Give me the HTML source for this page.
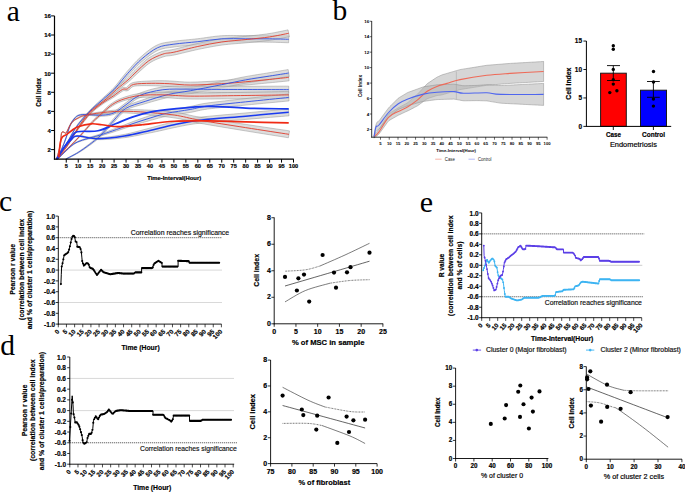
<!DOCTYPE html><html><head><meta charset="utf-8"><style>html,body{margin:0;padding:0;background:#fff;overflow:hidden}svg{display:block}</style></head><body>
<svg width="685" height="492" viewBox="0 0 685 492">
<rect width="685" height="492" fill="#fff"/>
<text x="6.8" y="20.7" font-size="29.5" font-family='"Liberation Serif", serif' font-weight="normal" fill="#000" text-anchor="start" >a</text>
<path d="M56.31,159.22 L56.7,158.65 L57.22,157.94 L57.82,157.09 L58.51,156.13 L59.25,155.07 L60.03,153.96 L60.83,152.79 L61.63,151.61 L62.44,150.37 L63.31,149.05 L64.21,147.65 L65.14,146.2 L66.09,144.72 L67.04,143.21 L67.98,141.7 L68.9,140.2 L69.81,138.68 L70.7,137.13 L71.59,135.54 L72.48,133.96 L73.37,132.38 L74.29,130.83 L75.22,129.32 L76.18,127.87 L77.18,126.48 L78.21,125.11 L79.26,123.77 L80.34,122.47 L81.42,121.19 L82.5,119.94 L83.58,118.72 L84.65,117.53 L85.69,116.39 L86.71,115.31 L87.72,114.27 L88.73,113.26 L89.76,112.25 L90.83,111.23 L91.94,110.19 L93.11,109.11 L94.36,107.99 L95.66,106.85 L97.02,105.69 L98.41,104.51 L99.82,103.32 L101.24,102.14 L102.65,100.95 L104.03,99.78 L105.41,98.61 L106.82,97.45 L108.24,96.29 L109.66,95.12 L111.07,93.94 L112.45,92.76 L113.78,91.57 L115.05,90.37 L116.25,89.16 L117.38,87.95 L118.46,86.73 L119.5,85.52 L120.5,84.32 L121.48,83.15 L122.45,82.01 L123.42,80.89 L124.37,79.81 L125.26,78.79 L126.11,77.8 L126.95,76.83 L127.82,75.84 L128.75,74.81 L129.78,73.71 L130.95,72.49 L132.25,71.13 L133.64,69.67 L135.1,68.14 L136.62,66.57 L138.21,64.99 L139.84,63.43 L141.51,61.93 L143.23,60.49 L145.04,59.04 L146.94,57.55 L148.9,56.07 L150.89,54.63 L152.89,53.27 L154.89,52.04 L156.84,50.96 L158.73,50.07 L160.53,49.39 L162.26,48.88 L163.98,48.46 L165.75,48.12 L167.62,47.83 L169.65,47.57 L171.88,47.29 L174.29,46.96 L176.88,46.62 L179.65,46.31 L182.59,46.03 L185.65,45.76 L188.78,45.49 L191.94,45.21 L195.07,44.93 L198.15,44.62 L201.18,44.27 L204.2,43.89 L207.2,43.49 L210.19,43.09 L213.15,42.72 L216.09,42.38 L219.02,42.11 L221.93,41.91 L224.83,41.79 L227.76,41.74 L230.7,41.75 L233.66,41.8 L236.63,41.87 L239.62,41.95 L242.63,42.01 L245.65,42.05 L248.69,42.06 L251.76,42.07 L254.85,42.08 L257.93,42.09 L260.96,42.1 L263.93,42.12 L266.8,42.14 L269.54,42.18 L272.27,42.24 L275.07,42.31 L277.86,42.4 L280.55,42.48 L283.05,42.57 L285.28,42.65 L287.17,42.72 L288.62,42.77 L288.81,35.83 L287.37,35.79 L285.49,35.75 L283.25,35.69 L280.74,35.63 L278.04,35.57 L275.22,35.52 L272.39,35.48 L269.62,35.46 L266.84,35.45 L263.94,35.45 L260.96,35.47 L257.91,35.49 L254.83,35.52 L251.74,35.55 L248.68,35.57 L245.67,35.59 L242.71,35.59 L239.74,35.56 L236.75,35.52 L233.74,35.48 L230.72,35.47 L227.68,35.49 L224.63,35.58 L221.55,35.73 L218.48,35.98 L215.43,36.31 L212.39,36.69 L209.37,37.1 L206.38,37.54 L203.4,37.97 L200.44,38.38 L197.49,38.75 L194.48,39.08 L191.39,39.4 L188.25,39.71 L185.11,40.01 L182.03,40.32 L179.03,40.65 L176.17,41 L173.51,41.38 L171.12,41.73 L168.91,42.03 L166.81,42.33 L164.77,42.67 L162.75,43.08 L160.71,43.63 L158.65,44.38 L156.54,45.33 L154.39,46.49 L152.25,47.82 L150.15,49.28 L148.09,50.84 L146.07,52.45 L144.12,54.08 L142.25,55.69 L140.46,57.26 L138.72,58.86 L137.03,60.53 L135.39,62.22 L133.82,63.92 L132.33,65.58 L130.92,67.18 L129.59,68.69 L128.35,70.09 L127.21,71.38 L126.2,72.56 L125.28,73.66 L124.42,74.7 L123.6,75.72 L122.79,76.73 L121.95,77.77 L121.04,78.88 L120.09,80.06 L119.14,81.26 L118.2,82.47 L117.25,83.68 L116.29,84.9 L115.29,86.11 L114.25,87.31 L113.15,88.5 L111.98,89.69 L110.74,90.89 L109.44,92.09 L108.1,93.3 L106.73,94.52 L105.36,95.74 L103.99,96.97 L102.64,98.19 L101.3,99.42 L99.94,100.65 L98.57,101.89 L97.2,103.13 L95.85,104.36 L94.53,105.58 L93.25,106.78 L92.03,107.96 L90.88,109.09 L89.8,110.18 L88.75,111.24 L87.74,112.29 L86.75,113.35 L85.76,114.43 L84.77,115.55 L83.75,116.73 L82.71,117.96 L81.66,119.22 L80.6,120.5 L79.54,121.82 L78.5,123.17 L77.46,124.55 L76.45,125.96 L75.47,127.4 L74.53,128.88 L73.61,130.43 L72.72,132.01 L71.85,133.61 L70.99,135.22 L70.13,136.81 L69.27,138.38 L68.4,139.9 L67.51,141.41 L66.59,142.93 L65.67,144.46 L64.75,145.96 L63.84,147.42 L62.96,148.83 L62.12,150.16 L61.33,151.41 L60.55,152.61 L59.77,153.78 L59.01,154.91 L58.28,155.97 L57.61,156.94 L57.01,157.8 L56.51,158.52 L56.12,159.08 Z" fill="#cfcfcf" fill-opacity="0.7" stroke="#8a8a8a" stroke-opacity="0.75" stroke-width="0.6" stroke-linejoin="round"/>
<path d="M56.3,159.23 L56.69,158.82 L57.2,158.3 L57.81,157.68 L58.5,156.98 L59.24,156.2 L60.02,155.36 L60.82,154.47 L61.61,153.53 L62.41,152.57 L63.24,151.58 L64.09,150.55 L64.98,149.44 L65.9,148.25 L66.86,146.97 L67.86,145.56 L68.9,144.03 L70.01,142.3 L71.18,140.36 L72.4,138.29 L73.66,136.13 L74.93,133.95 L76.19,131.81 L77.43,129.77 L78.62,127.89 L79.79,126.12 L80.94,124.4 L82.09,122.72 L83.22,121.11 L84.34,119.57 L85.44,118.1 L86.52,116.73 L87.58,115.45 L88.59,114.32 L89.54,113.32 L90.46,112.43 L91.37,111.61 L92.31,110.82 L93.29,110.01 L94.35,109.16 L95.5,108.24 L96.76,107.26 L98.11,106.26 L99.54,105.24 L101.02,104.2 L102.52,103.15 L104.02,102.07 L105.5,100.97 L106.93,99.85 L108.3,98.7 L109.63,97.54 L110.93,96.36 L112.21,95.17 L113.49,93.98 L114.77,92.8 L116.07,91.64 L117.41,90.49 L118.83,89.33 L120.32,88.15 L121.86,86.95 L123.42,85.75 L124.96,84.58 L126.44,83.43 L127.83,82.32 L129.11,81.27 L130.2,80.33 L131.1,79.5 L131.88,78.75 L132.6,78.03 L133.32,77.32 L134.11,76.54 L135.05,75.66 L136.23,74.6 L137.67,73.3 L139.28,71.8 L141.02,70.19 L142.84,68.53 L144.71,66.88 L146.58,65.31 L148.39,63.9 L150.11,62.71 L151.8,61.68 L153.54,60.75 L155.31,59.89 L157.08,59.12 L158.83,58.42 L160.55,57.8 L162.21,57.23 L163.76,56.72 L165.06,56.33 L166.09,56.1 L167.04,55.96 L168.06,55.86 L169.25,55.75 L170.69,55.6 L172.42,55.34 L174.49,54.95 L176.92,54.4 L179.65,53.76 L182.61,53.05 L185.75,52.28 L188.97,51.5 L192.22,50.73 L195.4,50.01 L198.45,49.35 L201.41,48.73 L204.36,48.13 L207.29,47.55 L210.22,46.99 L213.16,46.45 L216.12,45.94 L219.12,45.47 L222.17,45.03 L225.3,44.64 L228.53,44.3 L231.84,43.99 L235.19,43.71 L238.53,43.44 L241.83,43.18 L245.05,42.91 L248.14,42.62 L251.09,42.32 L253.95,42.05 L256.75,41.78 L259.49,41.5 L262.18,41.22 L264.83,40.92 L267.46,40.59 L270.08,40.24 L272.79,39.82 L275.61,39.34 L278.43,38.82 L281.18,38.3 L283.74,37.8 L286.03,37.34 L287.94,36.97 L289.39,36.69 L288.04,29.87 L286.57,30.17 L284.65,30.58 L282.37,31.05 L279.84,31.58 L277.15,32.12 L274.39,32.66 L271.67,33.15 L269.08,33.58 L266.56,33.96 L264.01,34.3 L261.42,34.62 L258.77,34.93 L256.07,35.23 L253.28,35.54 L250.42,35.85 L247.48,36.17 L244.44,36.49 L241.27,36.79 L237.98,37.1 L234.63,37.4 L231.25,37.73 L227.88,38.08 L224.55,38.47 L221.31,38.91 L218.17,39.4 L215.1,39.92 L212.07,40.47 L209.07,41.05 L206.1,41.66 L203.14,42.28 L200.18,42.92 L197.19,43.57 L194.09,44.28 L190.86,45.06 L187.59,45.87 L184.36,46.69 L181.23,47.49 L178.3,48.23 L175.62,48.89 L173.31,49.43 L171.44,49.81 L169.94,50.05 L168.68,50.2 L167.51,50.32 L166.32,50.45 L165.03,50.66 L163.61,50.99 L162.03,51.48 L160.35,52.1 L158.62,52.81 L156.81,53.59 L154.96,54.45 L153.08,55.41 L151.19,56.45 L149.31,57.6 L147.46,58.86 L145.59,60.3 L143.7,61.92 L141.81,63.66 L139.95,65.45 L138.17,67.22 L136.49,68.91 L134.96,70.46 L133.59,71.8 L132.44,72.94 L131.48,73.91 L130.68,74.76 L129.99,75.52 L129.32,76.23 L128.63,76.96 L127.82,77.76 L126.84,78.69 L125.66,79.75 L124.35,80.88 L122.94,82.08 L121.46,83.32 L119.96,84.58 L118.45,85.86 L116.98,87.13 L115.57,88.38 L114.24,89.62 L112.95,90.87 L111.69,92.12 L110.46,93.36 L109.23,94.58 L108,95.79 L106.76,96.97 L105.48,98.12 L104.14,99.26 L102.75,100.39 L101.31,101.51 L99.86,102.62 L98.42,103.72 L97.01,104.81 L95.67,105.88 L94.43,106.92 L93.3,107.9 L92.27,108.79 L91.3,109.65 L90.36,110.5 L89.45,111.38 L88.52,112.34 L87.57,113.4 L86.56,114.6 L85.51,115.94 L84.45,117.36 L83.37,118.87 L82.28,120.46 L81.18,122.11 L80.07,123.82 L78.95,125.58 L77.82,127.38 L76.66,129.3 L75.45,131.38 L74.23,133.55 L73,135.76 L71.79,137.94 L70.61,140.03 L69.47,141.97 L68.41,143.71 L67.4,145.25 L66.43,146.67 L65.51,147.96 L64.61,149.16 L63.75,150.28 L62.92,151.33 L62.12,152.33 L61.34,153.31 L60.56,154.25 L59.79,155.15 L59.02,156 L58.3,156.79 L57.62,157.5 L57.03,158.12 L56.52,158.65 L56.13,159.07 Z" fill="#cfcfcf" fill-opacity="0.7" stroke="#8a8a8a" stroke-opacity="0.75" stroke-width="0.6" stroke-linejoin="round"/>
<path d="M56.79,159.22 L57.52,158.22 L58.47,156.92 L59.6,155.37 L60.86,153.64 L62.23,151.77 L63.64,149.83 L65.07,147.86 L66.47,145.93 L67.87,143.96 L69.33,141.88 L70.84,139.71 L72.38,137.51 L73.95,135.28 L75.51,133.08 L77.07,130.93 L78.6,128.87 L80.12,126.85 L81.64,124.83 L83.16,122.83 L84.68,120.87 L86.19,118.96 L87.7,117.14 L89.21,115.42 L90.71,113.82 L92.22,112.34 L93.73,110.96 L95.25,109.68 L96.77,108.47 L98.29,107.32 L99.79,106.22 L101.28,105.15 L102.75,104.11 L104.18,103.11 L105.6,102.19 L107.02,101.32 L108.42,100.48 L109.81,99.67 L111.19,98.86 L112.55,98.04 L113.88,97.2 L115.21,96.31 L116.53,95.37 L117.82,94.43 L119.07,93.51 L120.26,92.65 L121.36,91.9 L122.34,91.28 L123.17,90.84 L123.75,90.62 L124.11,90.57 L124.39,90.6 L124.75,90.67 L125.29,90.79 L126.04,90.88 L126.97,90.81 L127.98,90.49 L128.95,89.92 L129.73,89.24 L130.37,88.56 L130.96,87.94 L131.56,87.39 L132.24,86.91 L133.07,86.51 L134.17,86.2 L135.66,85.97 L137.49,85.81 L139.57,85.71 L141.82,85.66 L144.17,85.65 L146.56,85.67 L148.93,85.7 L151.21,85.73 L153.39,85.77 L155.53,85.84 L157.67,85.93 L159.82,86.05 L162.02,86.18 L164.26,86.27 L166.58,86.38 L168.98,86.49 L171.38,86.64 L173.79,86.84 L176.26,87.08 L178.82,87.32 L181.51,87.55 L184.35,87.75 L187.39,87.89 L190.64,87.96 L194.18,87.94 L198.01,87.86 L202.04,87.74 L206.19,87.57 L210.34,87.39 L214.42,87.19 L218.31,86.98 L221.93,86.79 L225.28,86.6 L228.45,86.4 L231.48,86.19 L234.41,85.97 L237.28,85.74 L240.13,85.5 L243.01,85.26 L245.95,85.01 L248.99,84.75 L252.07,84.47 L255.17,84.18 L258.25,83.89 L261.3,83.59 L264.28,83.3 L267.16,83.02 L269.92,82.75 L272.68,82.49 L275.5,82.21 L278.3,81.93 L281,81.66 L283.51,81.41 L285.75,81.19 L287.64,81 L289.08,80.86 L288.35,73.95 L286.91,74.11 L285.03,74.32 L282.79,74.57 L280.28,74.85 L277.59,75.15 L274.8,75.46 L271.98,75.76 L269.24,76.06 L266.48,76.36 L263.59,76.67 L260.62,77 L257.59,77.33 L254.51,77.65 L251.44,77.98 L248.38,78.29 L245.37,78.58 L242.43,78.86 L239.56,79.14 L236.73,79.41 L233.89,79.66 L230.99,79.92 L228,80.16 L224.87,80.39 L221.55,80.62 L217.95,80.85 L214.07,81.1 L210.02,81.35 L205.9,81.58 L201.8,81.79 L197.82,81.96 L194.07,82.07 L190.65,82.13 L187.55,82.1 L184.66,82 L181.92,81.84 L179.3,81.64 L176.76,81.43 L174.25,81.23 L171.76,81.05 L169.26,80.92 L166.81,80.83 L164.47,80.75 L162.19,80.68 L159.96,80.68 L157.75,80.7 L155.56,80.75 L153.36,80.82 L151.14,80.91 L148.86,81.02 L146.47,81.14 L144.05,81.26 L141.64,81.42 L139.3,81.61 L137.1,81.85 L135.08,82.15 L133.26,82.54 L131.67,83.1 L130.33,83.82 L129.26,84.64 L128.43,85.46 L127.78,86.21 L127.26,86.8 L126.87,87.19 L126.53,87.42 L126.25,87.53 L126.06,87.56 L125.79,87.53 L125.33,87.46 L124.66,87.37 L123.79,87.38 L122.8,87.59 L121.78,88.03 L120.72,88.66 L119.64,89.42 L118.5,90.28 L117.32,91.21 L116.11,92.18 L114.87,93.17 L113.63,94.13 L112.4,95.04 L111.16,95.9 L109.88,96.76 L108.55,97.62 L107.19,98.5 L105.8,99.41 L104.39,100.37 L102.96,101.38 L101.53,102.46 L100.1,103.57 L98.64,104.71 L97.16,105.88 L95.67,107.11 L94.16,108.4 L92.65,109.77 L91.14,111.23 L89.65,112.8 L88.16,114.49 L86.68,116.29 L85.2,118.18 L83.72,120.14 L82.25,122.15 L80.78,124.19 L79.31,126.25 L77.84,128.31 L76.35,130.41 L74.83,132.6 L73.31,134.85 L71.8,137.1 L70.3,139.34 L68.83,141.54 L67.41,143.64 L66.05,145.63 L64.7,147.59 L63.31,149.58 L61.92,151.55 L60.59,153.44 L59.35,155.2 L58.24,156.76 L57.31,158.07 L56.6,159.08 Z" fill="#cfcfcf" fill-opacity="0.7" stroke="#8a8a8a" stroke-opacity="0.75" stroke-width="0.6" stroke-linejoin="round"/>
<path d="M65.9,159.37 L66.87,158.87 L68.18,158.22 L69.74,157.45 L71.47,156.59 L73.29,155.67 L75.12,154.72 L76.87,153.78 L78.47,152.87 L79.95,151.98 L81.4,151.07 L82.83,150.14 L84.24,149.19 L85.63,148.24 L86.99,147.29 L88.33,146.34 L89.65,145.4 L90.97,144.44 L92.31,143.46 L93.63,142.47 L94.93,141.48 L96.18,140.51 L97.36,139.58 L98.44,138.7 L99.41,137.89 L100.21,137.21 L100.83,136.65 L101.33,136.16 L101.77,135.7 L102.21,135.23 L102.7,134.67 L103.31,133.99 L104.12,133.11 L105.13,132.01 L106.25,130.76 L107.47,129.38 L108.77,127.92 L110.13,126.4 L111.52,124.86 L112.93,123.33 L114.36,121.83 L115.78,120.29 L117.17,118.68 L118.57,117.05 L119.98,115.44 L121.45,113.89 L123,112.44 L124.65,111.11 L126.45,109.94 L128.42,108.91 L130.56,108 L132.86,107.19 L135.28,106.43 L137.82,105.71 L140.45,105 L143.14,104.27 L145.88,103.49 L148.67,102.67 L151.57,101.82 L154.54,100.98 L157.55,100.14 L160.57,99.34 L163.56,98.56 L166.47,97.79 L169.27,97.12 L171.92,96.55 L174.41,96.09 L176.85,95.7 L179.31,95.35 L181.85,95 L184.55,94.62 L187.48,94.18 L190.68,93.64 L194.23,93 L198.09,92.29 L202.17,91.53 L206.38,90.73 L210.6,89.93 L214.74,89.14 L218.68,88.39 L222.34,87.69 L225.71,87.04 L228.89,86.41 L231.91,85.81 L234.81,85.23 L237.66,84.66 L240.48,84.11 L243.32,83.58 L246.23,83.06 L249.23,82.55 L252.28,82.06 L255.35,81.59 L258.42,81.13 L261.46,80.68 L264.44,80.24 L267.33,79.81 L270.11,79.39 L272.86,78.96 L275.68,78.53 L278.49,78.1 L281.18,77.68 L283.69,77.3 L285.93,76.95 L287.82,76.66 L289.26,76.44 L288.17,69.58 L286.73,69.82 L284.84,70.13 L282.61,70.5 L280.1,70.91 L277.41,71.36 L274.61,71.82 L271.8,72.29 L269.05,72.74 L266.3,73.19 L263.43,73.65 L260.46,74.12 L257.41,74.61 L254.33,75.11 L251.23,75.63 L248.14,76.16 L245.09,76.71 L242.13,77.27 L239.24,77.85 L236.4,78.43 L233.54,79.03 L230.64,79.65 L227.63,80.29 L224.48,80.94 L221.14,81.63 L217.5,82.36 L213.56,83.16 L209.44,84 L205.23,84.84 L201.04,85.68 L196.98,86.49 L193.14,87.24 L189.65,87.91 L186.53,88.47 L183.69,88.93 L181.03,89.34 L178.48,89.72 L175.97,90.11 L173.42,90.54 L170.79,91.06 L168,91.69 L165.08,92.43 L162.09,93.25 L159.07,94.19 L156.04,95.19 L153.04,96.22 L150.1,97.25 L147.24,98.27 L144.51,99.25 L141.88,100.17 L139.25,101.05 L136.65,101.91 L134.09,102.8 L131.59,103.73 L129.18,104.74 L126.88,105.86 L124.71,107.13 L122.72,108.57 L120.92,110.14 L119.29,111.8 L117.79,113.51 L116.38,115.22 L115.04,116.9 L113.73,118.53 L112.41,120.07 L111.04,121.62 L109.66,123.22 L108.31,124.82 L106.99,126.39 L105.74,127.9 L104.57,129.32 L103.5,130.59 L102.55,131.71 L101.76,132.62 L101.16,133.34 L100.69,133.9 L100.3,134.37 L99.91,134.79 L99.48,135.24 L98.92,135.79 L98.17,136.48 L97.25,137.3 L96.22,138.21 L95.09,139.17 L93.89,140.17 L92.64,141.2 L91.36,142.24 L90.07,143.26 L88.8,144.25 L87.52,145.24 L86.22,146.23 L84.9,147.23 L83.56,148.22 L82.19,149.2 L80.81,150.18 L79.4,151.13 L77.97,152.06 L76.43,153.01 L74.72,154 L72.94,155.01 L71.16,155.98 L69.46,156.9 L67.92,157.72 L66.63,158.41 L65.67,158.93 Z" fill="#cfcfcf" fill-opacity="0.7" stroke="#8a8a8a" stroke-opacity="0.75" stroke-width="0.6" stroke-linejoin="round"/>
<path d="M56.8,159.2 L57.17,158.49 L57.66,157.56 L58.25,156.45 L58.91,155.21 L59.61,153.87 L60.31,152.48 L61,151.06 L61.64,149.67 L62.25,148.26 L62.88,146.78 L63.5,145.24 L64.13,143.66 L64.75,142.07 L65.35,140.47 L65.94,138.9 L66.5,137.36 L67.02,135.83 L67.51,134.27 L67.97,132.71 L68.42,131.16 L68.87,129.66 L69.34,128.21 L69.83,126.84 L70.38,125.57 L70.97,124.37 L71.6,123.23 L72.26,122.13 L72.93,121.11 L73.62,120.15 L74.31,119.28 L74.98,118.49 L75.65,117.81 L76.27,117.23 L76.86,116.77 L77.43,116.4 L78,116.11 L78.6,115.88 L79.23,115.68 L79.94,115.51 L80.71,115.35 L81.53,115.23 L82.36,115.16 L83.24,115.13 L84.17,115.14 L85.17,115.18 L86.26,115.23 L87.44,115.29 L88.72,115.35 L90.14,115.44 L91.7,115.58 L93.38,115.75 L95.14,115.92 L96.94,116.08 L98.74,116.21 L100.51,116.27 L102.2,116.24 L103.79,116.16 L105.34,116.06 L106.88,115.92 L108.41,115.73 L109.95,115.46 L111.49,115.11 L113.06,114.64 L114.64,114.05 L116.24,113.31 L117.81,112.43 L119.35,111.45 L120.88,110.4 L122.39,109.31 L123.92,108.21 L125.45,107.13 L127.03,106.07 L128.63,104.95 L130.18,103.78 L131.67,102.59 L133.17,101.43 L134.72,100.32 L136.38,99.28 L138.19,98.31 L140.25,97.44 L142.6,96.63 L145.19,95.84 L147.97,95.09 L150.89,94.41 L153.92,93.8 L157.01,93.26 L160.13,92.82 L163.23,92.46 L166.32,92.16 L169.48,91.98 L172.71,91.89 L176.03,91.88 L179.43,91.92 L182.93,91.98 L186.51,92.03 L190.17,92.06 L193.66,92.07 L196.9,92.11 L200.1,92.16 L203.43,92.23 L207.08,92.3 L211.22,92.38 L216.04,92.46 L221.72,92.53 L228.86,92.6 L237.55,92.68 L247.2,92.76 L257.19,92.84 L266.94,92.92 L275.84,92.99 L283.3,93.05 L288.71,93.1 L288.73,86.15 L283.32,86.17 L275.86,86.19 L266.96,86.22 L257.21,86.26 L247.22,86.29 L237.57,86.31 L228.89,86.33 L221.76,86.34 L216.09,86.34 L211.29,86.32 L207.16,86.29 L203.51,86.26 L200.17,86.23 L196.95,86.21 L193.67,86.21 L190.17,86.24 L186.54,86.25 L182.99,86.24 L179.48,86.22 L176.02,86.22 L172.6,86.27 L169.21,86.4 L165.86,86.63 L162.56,86.99 L159.3,87.53 L156.05,88.2 L152.85,88.95 L149.73,89.78 L146.72,90.68 L143.85,91.63 L141.16,92.62 L138.66,93.65 L136.39,94.77 L134.35,95.98 L132.54,97.25 L130.91,98.54 L129.4,99.82 L127.97,101.06 L126.56,102.24 L125.09,103.36 L123.55,104.51 L122.02,105.69 L120.55,106.86 L119.11,107.99 L117.69,109.06 L116.3,110.03 L114.93,110.89 L113.56,111.61 L112.17,112.21 L110.79,112.7 L109.41,113.09 L108.01,113.41 L106.58,113.66 L105.12,113.87 L103.62,114.04 L102.08,114.2 L100.48,114.3 L98.79,114.33 L97.04,114.29 L95.26,114.22 L93.51,114.13 L91.81,114.04 L90.22,113.97 L88.77,113.94 L87.47,113.94 L86.29,113.94 L85.2,113.93 L84.17,113.94 L83.2,113.97 L82.28,114.04 L81.38,114.15 L80.51,114.32 L79.7,114.52 L78.95,114.74 L78.26,114.98 L77.6,115.27 L76.96,115.63 L76.33,116.06 L75.7,116.59 L75.05,117.22 L74.38,117.96 L73.7,118.79 L73.01,119.7 L72.33,120.7 L71.66,121.76 L71,122.89 L70.38,124.07 L69.8,125.31 L69.26,126.62 L68.77,128.02 L68.31,129.49 L67.87,131.01 L67.44,132.56 L66.99,134.12 L66.53,135.67 L66.02,137.2 L65.48,138.73 L64.91,140.31 L64.33,141.91 L63.73,143.51 L63.12,145.09 L62.51,146.63 L61.91,148.12 L61.31,149.53 L60.69,150.92 L60.02,152.34 L59.34,153.74 L58.66,155.08 L58.02,156.33 L57.44,157.44 L56.95,158.38 L56.59,159.1 Z" fill="#cfcfcf" fill-opacity="0.7" stroke="#8a8a8a" stroke-opacity="0.75" stroke-width="0.6" stroke-linejoin="round"/>
<path d="M56.77,159.24 L57.7,158.37 L58.94,157.22 L60.41,155.85 L62.05,154.33 L63.79,152.71 L65.55,151.06 L67.26,149.44 L68.86,147.9 L70.37,146.42 L71.89,144.92 L73.41,143.41 L74.92,141.88 L76.44,140.34 L77.96,138.79 L79.48,137.22 L81,135.63 L82.54,133.99 L84.1,132.28 L85.67,130.53 L87.24,128.78 L88.78,127.07 L90.29,125.42 L91.75,123.87 L93.14,122.46 L94.46,121.18 L95.74,120.02 L96.98,118.94 L98.19,117.92 L99.37,116.95 L100.53,115.99 L101.68,115.04 L102.83,114.07 L103.93,113.08 L104.96,112.12 L105.94,111.19 L106.9,110.28 L107.85,109.41 L108.84,108.56 L109.87,107.75 L110.99,106.96 L112.18,106.17 L113.37,105.4 L114.58,104.66 L115.83,103.94 L117.15,103.26 L118.56,102.6 L120.1,101.98 L121.8,101.38 L123.67,100.79 L125.67,100.21 L127.8,99.65 L130.02,99.12 L132.34,98.64 L134.73,98.22 L137.19,97.86 L139.7,97.59 L142.29,97.4 L144.99,97.29 L147.78,97.24 L150.65,97.25 L153.61,97.31 L156.64,97.41 L159.72,97.53 L162.85,97.63 L165.91,97.73 L168.92,97.88 L171.95,98.08 L175.09,98.31 L178.41,98.54 L181.98,98.75 L185.87,98.92 L190.13,99.03 L194.75,99.08 L199.66,99.09 L204.83,99.07 L210.24,99.03 L215.87,98.97 L221.68,98.91 L227.64,98.85 L233.74,98.8 L240.45,98.75 L247.98,98.69 L255.95,98.63 L263.98,98.56 L271.66,98.5 L278.61,98.44 L284.44,98.39 L288.76,98.35 L288.67,91.41 L284.34,91.49 L278.51,91.61 L271.56,91.75 L263.88,91.9 L255.86,92.06 L247.89,92.21 L240.36,92.36 L233.66,92.48 L227.55,92.6 L221.58,92.73 L215.77,92.86 L210.15,92.98 L204.76,93.09 L199.62,93.16 L194.75,93.21 L190.2,93.21 L186.04,93.15 L182.25,93.02 L178.75,92.86 L175.46,92.67 L172.3,92.48 L169.21,92.31 L166.11,92.18 L162.94,92.12 L159.77,92.17 L156.65,92.24 L153.58,92.34 L150.56,92.47 L147.61,92.64 L144.72,92.86 L141.92,93.15 L139.21,93.51 L136.58,93.95 L134.02,94.48 L131.54,95.06 L129.16,95.7 L126.88,96.37 L124.71,97.07 L122.67,97.79 L120.75,98.5 L118.98,99.23 L117.35,99.99 L115.85,100.78 L114.47,101.58 L113.17,102.4 L111.94,103.24 L110.75,104.09 L109.55,104.96 L108.39,105.85 L107.31,106.78 L106.3,107.72 L105.34,108.66 L104.4,109.62 L103.45,110.58 L102.48,111.56 L101.45,112.55 L100.37,113.54 L99.28,114.52 L98.15,115.52 L97,116.54 L95.81,117.62 L94.59,118.77 L93.32,120 L92.01,121.35 L90.64,122.84 L89.21,124.45 L87.74,126.15 L86.25,127.92 L84.73,129.71 L83.22,131.5 L81.71,133.24 L80.23,134.92 L78.76,136.54 L77.29,138.15 L75.81,139.74 L74.34,141.32 L72.87,142.88 L71.39,144.43 L69.92,145.97 L68.45,147.48 L66.89,149.06 L65.22,150.72 L63.5,152.41 L61.8,154.06 L60.19,155.62 L58.74,157.01 L57.53,158.18 L56.61,159.06 Z" fill="#cfcfcf" fill-opacity="0.7" stroke="#8a8a8a" stroke-opacity="0.75" stroke-width="0.6" stroke-linejoin="round"/>
<path d="M57.98,159.24 L58.62,158.58 L59.44,157.71 L60.41,156.67 L61.5,155.51 L62.68,154.29 L63.92,153.06 L65.18,151.86 L66.43,150.74 L67.63,149.67 L68.79,148.58 L69.95,147.49 L71.17,146.42 L72.5,145.36 L74,144.33 L75.71,143.33 L77.69,142.38 L80.06,141.47 L82.81,140.59 L85.83,139.73 L89.01,138.9 L92.23,138.1 L95.37,137.32 L98.33,136.57 L101,135.84 L103.34,135.14 L105.48,134.5 L107.46,133.89 L109.34,133.3 L111.18,132.72 L113.03,132.13 L114.93,131.52 L116.96,130.86 L119.1,130.17 L121.29,129.43 L123.52,128.68 L125.77,127.92 L128.02,127.16 L130.25,126.42 L132.44,125.71 L134.57,125.03 L136.64,124.39 L138.68,123.77 L140.68,123.18 L142.66,122.6 L144.64,122.03 L146.63,121.47 L148.63,120.91 L150.68,120.35 L152.72,119.79 L154.71,119.22 L156.68,118.67 L158.65,118.12 L160.66,117.6 L162.75,117.09 L164.95,116.55 L167.3,116.03 L169.89,115.53 L172.72,115.05 L175.73,114.58 L178.84,114.13 L181.96,113.68 L185.02,113.24 L187.95,112.8 L190.68,112.36 L193.06,111.91 L195.07,111.48 L196.84,111.07 L198.53,110.67 L200.28,110.28 L202.3,109.88 L204.74,109.47 L207.8,109.03 L211.51,108.57 L215.71,108.09 L220.32,107.6 L225.24,107.1 L230.36,106.59 L235.59,106.08 L240.83,105.57 L246,105.06 L251.44,104.52 L257.43,103.94 L263.68,103.33 L269.92,102.74 L275.85,102.17 L281.21,101.66 L285.71,101.23 L289.07,100.91 L288.37,94 L285.01,94.36 L280.52,94.84 L275.17,95.41 L269.24,96.04 L263.01,96.71 L256.76,97.39 L250.77,98.04 L245.32,98.64 L240.17,99.21 L234.94,99.78 L229.71,100.35 L224.58,100.92 L219.65,101.48 L215.01,102.03 L210.76,102.56 L206.97,103.07 L203.8,103.56 L201.2,104.03 L199.04,104.48 L197.17,104.92 L195.47,105.34 L193.76,105.76 L191.89,106.18 L189.65,106.62 L187.02,107.08 L184.15,107.55 L181.11,108.02 L177.99,108.5 L174.86,109 L171.79,109.51 L168.86,110.04 L166.15,110.59 L163.66,111.17 L161.35,111.77 L159.19,112.43 L157.13,113.1 L155.15,113.78 L153.21,114.46 L151.27,115.14 L149.28,115.82 L147.27,116.49 L145.29,117.17 L143.32,117.85 L141.36,118.54 L139.39,119.24 L137.41,119.95 L135.4,120.69 L133.34,121.45 L131.22,122.26 L129.05,123.1 L126.85,123.96 L124.64,124.84 L122.44,125.72 L120.25,126.58 L118.11,127.42 L116.03,128.23 L114.04,128.98 L112.17,129.69 L110.37,130.37 L108.57,131.04 L106.73,131.71 L104.79,132.41 L102.7,133.15 L100.41,133.95 L97.82,134.8 L94.92,135.68 L91.82,136.6 L88.63,137.55 L85.47,138.52 L82.46,139.51 L79.7,140.51 L77.31,141.54 L75.3,142.59 L73.57,143.68 L72.07,144.79 L70.74,145.91 L69.53,147.04 L68.39,148.16 L67.26,149.27 L66.09,150.37 L64.86,151.52 L63.62,152.75 L62.4,154.02 L61.24,155.27 L60.17,156.45 L59.22,157.5 L58.41,158.39 L57.79,159.06 Z" fill="#cfcfcf" fill-opacity="0.7" stroke="#8a8a8a" stroke-opacity="0.75" stroke-width="0.6" stroke-linejoin="round"/>
<path d="M56.79,159.21 L57.35,158.3 L58.1,157.07 L58.98,155.6 L59.96,153.98 L61.01,152.3 L62.06,150.66 L63.09,149.13 L64.04,147.82 L64.95,146.67 L65.87,145.58 L66.8,144.56 L67.73,143.59 L68.64,142.69 L69.54,141.84 L70.42,141.04 L71.28,140.29 L72.01,139.56 L72.56,138.84 L73.01,138.2 L73.44,137.66 L73.95,137.21 L74.64,136.86 L75.64,136.61 L77.04,136.49 L78.86,136.58 L81.02,136.89 L83.48,137.37 L86.16,137.93 L89.02,138.51 L91.99,139.04 L95.02,139.44 L98.06,139.64 L101.15,139.65 L104.37,139.56 L107.69,139.39 L111.08,139.13 L114.51,138.82 L117.93,138.45 L121.32,138.06 L124.64,137.64 L127.93,137.17 L131.22,136.63 L134.5,136.03 L137.76,135.4 L140.99,134.75 L144.2,134.09 L147.37,133.44 L150.52,132.81 L153.63,132.19 L156.71,131.54 L159.74,130.89 L162.75,130.24 L165.72,129.53 L168.7,128.83 L171.69,128.16 L174.73,127.53 L177.68,126.92 L180.45,126.34 L183.13,125.79 L185.85,125.26 L188.74,124.74 L191.91,124.23 L195.49,123.73 L199.61,123.22 L204.37,122.72 L209.72,122.23 L215.51,121.74 L221.59,121.26 L227.82,120.79 L234.05,120.32 L240.14,119.86 L245.94,119.39 L251.78,118.91 L257.96,118.39 L264.24,117.87 L270.39,117.36 L276.17,116.88 L281.36,116.45 L285.72,116.09 L289.02,115.81 L288.41,108.9 L285.11,109.21 L280.75,109.62 L275.57,110.11 L269.79,110.65 L263.65,111.24 L257.38,111.83 L251.21,112.41 L245.38,112.96 L239.61,113.49 L233.54,114.02 L227.31,114.56 L221.08,115.11 L214.98,115.66 L209.16,116.21 L203.75,116.77 L198.9,117.34 L194.69,117.9 L191.01,118.46 L187.74,119.03 L184.76,119.59 L181.97,120.17 L179.26,120.76 L176.5,121.37 L173.55,122.01 L170.48,122.69 L167.43,123.41 L164.42,124.15 L161.43,124.9 L158.46,125.73 L155.49,126.56 L152.49,127.38 L149.44,128.19 L146.34,129 L143.2,129.84 L140.04,130.69 L136.88,131.52 L133.7,132.33 L130.51,133.09 L127.32,133.8 L124.13,134.44 L120.87,135.04 L117.54,135.62 L114.17,136.16 L110.81,136.65 L107.48,137.07 L104.23,137.41 L101.08,137.66 L98.08,137.79 L95.15,137.74 L92.19,137.49 L89.25,137.11 L86.4,136.66 L83.69,136.21 L81.18,135.83 L78.94,135.6 L77.01,135.59 L75.49,135.78 L74.35,136.11 L73.51,136.58 L72.89,137.14 L72.41,137.77 L71.98,138.43 L71.48,139.1 L70.81,139.81 L69.99,140.57 L69.12,141.39 L68.24,142.28 L67.33,143.21 L66.42,144.21 L65.51,145.27 L64.6,146.38 L63.7,147.56 L62.76,148.91 L61.75,150.45 L60.72,152.12 L59.7,153.82 L58.73,155.45 L57.87,156.93 L57.14,158.18 L56.59,159.09 Z" fill="#cfcfcf" fill-opacity="0.7" stroke="#8a8a8a" stroke-opacity="0.75" stroke-width="0.6" stroke-linejoin="round"/>
<path d="M56.81,159.18 L57.1,158.06 L57.51,156.54 L58.01,154.74 L58.54,152.74 L59.09,150.65 L59.61,148.58 L60.07,146.61 L60.44,144.85 L60.7,143.21 L60.89,141.54 L61.03,139.89 L61.14,138.29 L61.23,136.81 L61.34,135.47 L61.47,134.32 L61.65,133.41 L61.86,132.77 L62.08,132.38 L62.29,132.19 L62.5,132.13 L62.73,132.13 L63,132.18 L63.32,132.24 L63.61,132.24 L63.82,132.28 L64.04,132.46 L64.3,132.75 L64.6,133.06 L64.96,133.34 L65.41,133.46 L65.93,133.31 L66.45,132.86 L67.01,132.07 L67.6,130.98 L68.24,129.67 L68.92,128.24 L69.62,126.77 L70.34,125.36 L71.07,124.09 L71.8,123.07 L72.52,122.25 L73.24,121.55 L73.97,120.93 L74.73,120.39 L75.51,119.9 L76.35,119.43 L77.24,118.97 L78.2,118.5 L79.12,118.04 L79.93,117.61 L80.72,117.23 L81.56,116.87 L82.56,116.53 L83.82,116.19 L85.41,115.85 L87.43,115.5 L89.97,115.12 L92.97,114.71 L96.31,114.3 L99.9,113.9 L103.62,113.53 L107.35,113.22 L110.99,112.98 L114.42,112.83 L117.64,112.77 L120.77,112.78 L123.85,112.85 L126.92,112.97 L130.06,113.15 L133.29,113.37 L136.69,113.64 L140.29,113.96 L144.17,114.32 L148.31,114.74 L152.63,115.22 L157.04,115.74 L161.44,116.3 L165.76,116.79 L169.89,117.29 L173.74,117.82 L177.16,118.37 L180.19,118.95 L183.01,119.56 L185.8,120.21 L188.71,120.9 L191.9,121.63 L195.51,122.4 L199.69,123.2 L204.48,124.06 L209.77,124.97 L215.44,125.93 L221.37,126.92 L227.43,127.92 L233.5,128.92 L239.45,129.89 L245.16,130.82 L250.97,131.77 L257.14,132.77 L263.45,133.78 L269.64,134.76 L275.47,135.69 L280.71,136.52 L285.11,137.22 L288.43,137.75 L289.48,130.89 L286.15,130.39 L281.75,129.74 L276.5,128.97 L270.66,128.11 L264.46,127.19 L258.15,126.25 L251.97,125.33 L246.16,124.45 L240.45,123.58 L234.49,122.67 L228.41,121.75 L222.35,120.82 L216.42,119.9 L210.76,119 L205.48,118.15 L200.74,117.36 L196.64,116.62 L193.12,115.91 L190,115.23 L187.09,114.58 L184.24,113.95 L181.29,113.34 L178.11,112.77 L174.54,112.24 L170.58,111.74 L166.37,111.27 L161.99,110.84 L157.51,110.56 L153.04,110.31 L148.66,110.1 L144.46,109.93 L140.54,109.8 L136.9,109.7 L133.46,109.63 L130.18,109.59 L126.99,109.59 L123.85,109.64 L120.72,109.75 L117.54,109.92 L114.26,110.16 L110.78,110.49 L107.12,110.92 L103.37,111.43 L99.65,111.98 L96.07,112.56 L92.72,113.13 L89.73,113.68 L87.19,114.18 L85.15,114.63 L83.52,115.05 L82.21,115.46 L81.16,115.87 L80.27,116.29 L79.46,116.72 L78.66,117.18 L77.76,117.67 L76.82,118.17 L75.93,118.67 L75.08,119.19 L74.27,119.73 L73.49,120.33 L72.73,121 L71.99,121.77 L71.25,122.65 L70.51,123.74 L69.78,125.06 L69.07,126.51 L68.39,127.99 L67.73,129.43 L67.12,130.74 L66.56,131.8 L66.07,132.53 L65.67,132.89 L65.4,132.98 L65.16,132.92 L64.9,132.72 L64.63,132.44 L64.34,132.14 L64.01,131.89 L63.65,131.82 L63.35,131.82 L63.07,131.79 L62.76,131.74 L62.43,131.75 L62.09,131.87 L61.79,132.16 L61.53,132.63 L61.3,133.32 L61.12,134.27 L60.99,135.43 L60.89,136.78 L60.8,138.27 L60.69,139.86 L60.56,141.5 L60.37,143.16 L60.12,144.8 L59.77,146.54 L59.32,148.51 L58.81,150.58 L58.28,152.67 L57.75,154.67 L57.27,156.48 L56.87,157.99 L56.58,159.12 Z" fill="#cfcfcf" fill-opacity="0.7" stroke="#8a8a8a" stroke-opacity="0.75" stroke-width="0.6" stroke-linejoin="round"/>
<path d="M56.21,159.15 C57.09,157.88 59.4,154.69 61.48,151.51 C63.55,148.33 66.26,144.03 68.65,140.05 C71.04,136.07 73.24,131.45 75.83,127.63 C78.42,123.81 81.41,120.31 84.2,117.13 C86.99,113.95 89.38,111.56 92.57,108.53 C95.76,105.51 99.75,102.17 103.34,98.98 C106.92,95.8 110.95,92.62 114.1,89.43 C117.25,86.25 119.64,82.91 122.23,79.88 C124.82,76.86 126.38,74.79 129.65,71.29 C132.92,67.79 137.18,62.81 141.85,58.87 C146.51,54.94 152.29,50.15 157.63,47.7 C162.98,45.25 167.2,45.17 173.9,44.17 C180.6,43.17 189.85,42.58 197.82,41.68 C205.79,40.79 213.77,39.3 221.74,38.82 C229.71,38.34 237.69,38.82 245.66,38.82 C253.63,38.82 262.4,38.74 269.58,38.82 C276.76,38.9 285.53,39.22 288.72,39.3" fill="none" stroke="#2f4fe4" stroke-width="0.9" stroke-linejoin="round"/>
<path d="M56.21,159.15 C57.09,158.19 59.4,155.97 61.48,153.42 C63.55,150.87 65.86,148.17 68.65,143.87 C71.44,139.57 75.15,132.44 78.22,127.63 C81.29,122.83 84.28,118.37 87.07,115.03 C89.86,111.69 91.77,110.25 94.96,107.58 C98.15,104.91 102.62,102.01 106.21,98.98 C109.79,95.96 112.86,92.6 116.49,89.43 C120.12,86.27 124.9,82.69 127.97,79.98 C131.04,77.27 131.44,76.4 134.91,73.2 C138.38,70 144.12,63.97 148.78,60.78 C153.45,57.6 158.71,55.53 162.9,54.1 C167.08,52.67 168.08,53.46 173.9,52.19 C179.72,50.92 189.85,48.16 197.82,46.46 C205.79,44.76 213.41,43.15 221.74,41.97 C230.07,40.79 239.84,40.24 247.81,39.39 C255.79,38.55 262.76,37.93 269.58,36.91 C276.4,35.89 285.53,33.89 288.72,33.28" fill="none" stroke="#e03c2c" stroke-width="0.9" stroke-linejoin="round"/>
<path d="M56.69,159.15 C58.29,156.92 62.67,150.87 66.26,145.78 C69.85,140.69 74.23,134 78.22,128.59 C82.21,123.18 86.19,117.53 90.18,113.31 C94.17,109.09 98.31,106.15 102.14,103.28 C105.97,100.42 109.75,98.43 113.14,96.12 C116.53,93.81 120.12,90.63 122.47,89.43 C124.82,88.24 125.38,89.8 127.26,88.96 C129.13,88.11 129.73,85.31 133.71,84.37 C137.7,83.43 145.28,83.43 151.18,83.32 C157.08,83.21 162.54,83.42 169.12,83.7 C175.69,83.99 181.87,85.04 190.64,85.04 C199.41,85.04 212.57,84.25 221.74,83.7 C230.91,83.16 237.69,82.51 245.66,81.79 C253.63,81.08 262.4,80.14 269.58,79.41 C276.76,78.68 285.53,77.74 288.72,77.4" fill="none" stroke="#e03c2c" stroke-width="0.9" stroke-linejoin="round"/>
<path d="M65.78,159.15 C67.85,158.04 74.31,154.85 78.22,152.47 C82.13,150.08 85.79,147.37 89.22,144.82 C92.65,142.28 96.44,139.25 98.79,137.19 C101.14,135.12 100.9,135.12 103.34,132.41 C105.77,129.7 109.67,124.93 113.38,120.95 C117.09,116.97 120.28,111.8 125.58,108.53 C130.88,105.27 138.02,103.73 145.2,101.37 C152.37,99.02 161.14,96.17 168.64,94.4 C176.13,92.63 181.32,92.4 190.17,90.77 C199.02,89.15 212.49,86.47 221.74,84.66 C230.99,82.85 237.69,81.32 245.66,79.88 C253.63,78.45 262.4,77.21 269.58,76.06 C276.76,74.92 285.53,73.52 288.72,73.01" fill="none" stroke="#2f4fe4" stroke-width="0.9" stroke-linejoin="round"/>
<path d="M56.69,159.15 C57.49,157.56 59.88,153.24 61.48,149.6 C63.07,145.96 64.82,141.31 66.26,137.28 C67.7,133.25 68.57,128.73 70.09,125.44 C71.6,122.14 73.6,119.28 75.35,117.51 C77.1,115.75 78.38,115.32 80.61,114.84 C82.84,114.36 85.16,114.58 88.74,114.65 C92.33,114.71 97.91,115.52 102.14,115.22 C106.37,114.92 110.11,114.58 114.1,112.83 C118.09,111.08 121.83,107.6 126.06,104.71 C130.29,101.83 133.32,98.05 139.46,95.55 C145.59,93.05 154.45,90.79 162.9,89.72 C171.35,88.66 180.36,89.2 190.17,89.15 C199.97,89.1 205.31,89.36 221.74,89.43 C238.17,89.51 277.55,89.59 288.72,89.63" fill="none" stroke="#2f4fe4" stroke-width="0.9" stroke-linejoin="round"/>
<path d="M56.69,159.15 C58.69,157.24 64.67,151.67 68.65,147.69 C72.64,143.71 76.63,139.57 80.61,135.28 C84.6,130.98 88.98,125.57 92.57,121.9 C96.16,118.24 99.19,115.97 102.14,113.31 C105.09,110.65 107.08,108.18 110.27,105.96 C113.46,103.73 116.41,101.67 121.28,99.94 C126.14,98.21 132.52,96.39 139.46,95.55 C146.39,94.7 154.45,94.78 162.9,94.88 C171.35,94.97 178.37,95.99 190.17,96.12 C201.97,96.25 217.27,95.85 233.7,95.64 C250.13,95.44 279.55,95.01 288.72,94.88" fill="none" stroke="#e03c2c" stroke-width="0.9" stroke-linejoin="round"/>
<path d="M57.89,159.15 C59.28,157.72 62.99,153.42 66.26,150.56 C69.53,147.69 71.76,144.57 77.5,141.96 C83.24,139.35 94.21,136.96 100.7,134.89 C107.2,132.82 110.95,131.49 116.49,129.54 C122.03,127.6 128.37,125.15 133.95,123.24 C139.53,121.33 144.52,119.74 149.98,118.08 C155.44,116.43 160.03,114.74 166.72,113.31 C173.42,111.88 183.39,110.7 190.17,109.49 C196.94,108.28 198.14,107.33 207.39,106.05 C216.64,104.78 232.11,103.28 245.66,101.85 C259.21,100.42 281.54,98.19 288.72,97.46" fill="none" stroke="#2f4fe4" stroke-width="0.9" stroke-linejoin="round"/>
<path d="M56.69,159.15 C57.89,157.24 61.48,150.87 63.87,147.69 C66.26,144.51 68.85,141.99 71.04,140.05 C73.24,138.11 72.52,136.26 77.02,136.04 C81.53,135.82 90.18,138.71 98.07,138.71 C105.97,138.71 115.73,137.41 124.39,136.04 C133.04,134.67 141.69,132.38 149.98,130.5 C158.27,128.62 165.93,126.47 174.14,124.77 C182.35,123.07 187.34,121.71 199.26,120.28 C211.18,118.85 230.75,117.5 245.66,116.17 C260.57,114.85 281.54,112.99 288.72,112.35" fill="none" stroke="#1a3af0" stroke-width="1.5" stroke-linejoin="round"/>
<path d="M56.69,159.15 C57.29,156.76 59.48,149.12 60.28,144.82 C61.08,140.53 60.92,135.5 61.48,133.36 C62.03,131.23 62.83,132.14 63.63,132.03 C64.43,131.92 64.94,134.22 66.26,132.7 C67.58,131.17 69.57,125.3 71.52,122.86 C73.48,120.42 75.35,119.42 77.98,118.08 C80.61,116.75 81.25,115.94 87.31,114.84 C93.37,113.74 105.49,111.99 114.34,111.5 C123.19,111 130.45,111.29 140.41,111.88 C150.38,112.47 164.17,113.63 174.14,115.03 C184.11,116.43 188.29,118.18 200.21,120.28 C212.13,122.38 230.87,125.3 245.66,127.63 C260.45,129.97 281.74,133.21 288.96,134.32" fill="none" stroke="#e03c2c" stroke-width="0.9" stroke-linejoin="round"/>
<path d="M56.69,159.15 C57.89,157.24 61.48,151.19 63.87,147.69 C66.26,144.19 68.85,140.8 71.04,138.14 C73.24,135.48 72.52,132.97 77.02,131.74 C81.53,130.52 91.66,132.11 98.07,130.79 C104.49,129.47 109.71,126.14 115.54,123.81 C121.36,121.49 127.06,118.83 133,116.84 C138.94,114.85 144.32,113.2 151.18,111.88 C158.03,110.56 164.77,109.84 174.14,108.92 C183.51,107.99 195.47,106.48 207.39,106.34 C219.31,106.2 232.11,107.63 245.66,108.06 C259.21,108.49 281.54,108.77 288.72,108.92" fill="none" stroke="#1a3af0" stroke-width="1.7" stroke-linejoin="round"/>
<path d="M58.84,157.24 C59.08,154.8 59.72,145.96 60.28,142.63 C60.84,139.3 61.2,138.62 62.19,137.28 C63.19,135.94 64.71,135.7 66.26,134.61 C67.81,133.51 69.57,132.01 71.52,130.69 C73.48,129.37 74.67,127.83 77.98,126.68 C81.29,125.53 87.39,124.13 91.38,123.81 C95.36,123.5 98.07,124.32 101.9,124.77 C105.73,125.22 110.59,126.22 114.34,126.49 C118.09,126.76 119.8,126.68 124.39,126.39 C128.97,126.11 133.55,125.63 141.85,124.77 C150.14,123.91 162.82,121.87 174.14,121.24 C185.46,120.6 197.86,120.84 209.78,120.95 C221.7,121.06 232.5,121.59 245.66,121.9 C258.82,122.22 281.54,122.7 288.72,122.86" fill="none" stroke="#f02a14" stroke-width="1.7" stroke-linejoin="round"/>
<line x1="54.5" y1="15.9" x2="54.5" y2="159.7" stroke="#000" stroke-width="1.2" />
<line x1="53.9" y1="159.1" x2="293.8" y2="159.1" stroke="#000" stroke-width="1.2" />
<line x1="51.1" y1="149.6" x2="54.5" y2="149.6" stroke="#000" stroke-width="1" />
<text x="50.9" y="151.9" font-size="6" font-family='"Liberation Sans", sans-serif' font-weight="bold" fill="#000" text-anchor="end" stroke="#000" stroke-width="0.18" >2</text>
<line x1="51.1" y1="130.5" x2="54.5" y2="130.5" stroke="#000" stroke-width="1" />
<text x="50.9" y="132.8" font-size="6" font-family='"Liberation Sans", sans-serif' font-weight="bold" fill="#000" text-anchor="end" stroke="#000" stroke-width="0.18" >4</text>
<line x1="51.1" y1="111.4" x2="54.5" y2="111.4" stroke="#000" stroke-width="1" />
<text x="50.9" y="113.7" font-size="6" font-family='"Liberation Sans", sans-serif' font-weight="bold" fill="#000" text-anchor="end" stroke="#000" stroke-width="0.18" >6</text>
<line x1="51.1" y1="92.3" x2="54.5" y2="92.3" stroke="#000" stroke-width="1" />
<text x="50.9" y="94.6" font-size="6" font-family='"Liberation Sans", sans-serif' font-weight="bold" fill="#000" text-anchor="end" stroke="#000" stroke-width="0.18" >8</text>
<line x1="51.1" y1="73.2" x2="54.5" y2="73.2" stroke="#000" stroke-width="1" />
<text x="50.9" y="75.5" font-size="6" font-family='"Liberation Sans", sans-serif' font-weight="bold" fill="#000" text-anchor="end" stroke="#000" stroke-width="0.18" >10</text>
<line x1="51.1" y1="54.1" x2="54.5" y2="54.1" stroke="#000" stroke-width="1" />
<text x="50.9" y="56.4" font-size="6" font-family='"Liberation Sans", sans-serif' font-weight="bold" fill="#000" text-anchor="end" stroke="#000" stroke-width="0.18" >12</text>
<line x1="51.1" y1="35" x2="54.5" y2="35" stroke="#000" stroke-width="1" />
<text x="50.9" y="37.3" font-size="6" font-family='"Liberation Sans", sans-serif' font-weight="bold" fill="#000" text-anchor="end" stroke="#000" stroke-width="0.18" >14</text>
<line x1="51.1" y1="15.9" x2="54.5" y2="15.9" stroke="#000" stroke-width="1" />
<text x="50.9" y="18.2" font-size="6" font-family='"Liberation Sans", sans-serif' font-weight="bold" fill="#000" text-anchor="end" stroke="#000" stroke-width="0.18" >16</text>
<line x1="66.26" y1="159.1" x2="66.26" y2="162.6" stroke="#000" stroke-width="1" />
<text x="66.26" y="168.1" font-size="5.6" font-family='"Liberation Sans", sans-serif' font-weight="bold" fill="#000" text-anchor="middle" stroke="#000" stroke-width="0.18" >5</text>
<line x1="78.22" y1="159.1" x2="78.22" y2="162.6" stroke="#000" stroke-width="1" />
<text x="78.22" y="168.1" font-size="5.6" font-family='"Liberation Sans", sans-serif' font-weight="bold" fill="#000" text-anchor="middle" stroke="#000" stroke-width="0.18" >10</text>
<line x1="90.18" y1="159.1" x2="90.18" y2="162.6" stroke="#000" stroke-width="1" />
<text x="90.18" y="168.1" font-size="5.6" font-family='"Liberation Sans", sans-serif' font-weight="bold" fill="#000" text-anchor="middle" stroke="#000" stroke-width="0.18" >15</text>
<line x1="102.14" y1="159.1" x2="102.14" y2="162.6" stroke="#000" stroke-width="1" />
<text x="102.14" y="168.1" font-size="5.6" font-family='"Liberation Sans", sans-serif' font-weight="bold" fill="#000" text-anchor="middle" stroke="#000" stroke-width="0.18" >20</text>
<line x1="114.1" y1="159.1" x2="114.1" y2="162.6" stroke="#000" stroke-width="1" />
<text x="114.1" y="168.1" font-size="5.6" font-family='"Liberation Sans", sans-serif' font-weight="bold" fill="#000" text-anchor="middle" stroke="#000" stroke-width="0.18" >25</text>
<line x1="126.06" y1="159.1" x2="126.06" y2="162.6" stroke="#000" stroke-width="1" />
<text x="126.06" y="168.1" font-size="5.6" font-family='"Liberation Sans", sans-serif' font-weight="bold" fill="#000" text-anchor="middle" stroke="#000" stroke-width="0.18" >30</text>
<line x1="138.02" y1="159.1" x2="138.02" y2="162.6" stroke="#000" stroke-width="1" />
<text x="138.02" y="168.1" font-size="5.6" font-family='"Liberation Sans", sans-serif' font-weight="bold" fill="#000" text-anchor="middle" stroke="#000" stroke-width="0.18" >35</text>
<line x1="149.98" y1="159.1" x2="149.98" y2="162.6" stroke="#000" stroke-width="1" />
<text x="149.98" y="168.1" font-size="5.6" font-family='"Liberation Sans", sans-serif' font-weight="bold" fill="#000" text-anchor="middle" stroke="#000" stroke-width="0.18" >40</text>
<line x1="161.94" y1="159.1" x2="161.94" y2="162.6" stroke="#000" stroke-width="1" />
<text x="161.94" y="168.1" font-size="5.6" font-family='"Liberation Sans", sans-serif' font-weight="bold" fill="#000" text-anchor="middle" stroke="#000" stroke-width="0.18" >45</text>
<line x1="173.9" y1="159.1" x2="173.9" y2="162.6" stroke="#000" stroke-width="1" />
<text x="173.9" y="168.1" font-size="5.6" font-family='"Liberation Sans", sans-serif' font-weight="bold" fill="#000" text-anchor="middle" stroke="#000" stroke-width="0.18" >50</text>
<line x1="185.86" y1="159.1" x2="185.86" y2="162.6" stroke="#000" stroke-width="1" />
<text x="185.86" y="168.1" font-size="5.6" font-family='"Liberation Sans", sans-serif' font-weight="bold" fill="#000" text-anchor="middle" stroke="#000" stroke-width="0.18" >55</text>
<line x1="197.82" y1="159.1" x2="197.82" y2="162.6" stroke="#000" stroke-width="1" />
<text x="197.82" y="168.1" font-size="5.6" font-family='"Liberation Sans", sans-serif' font-weight="bold" fill="#000" text-anchor="middle" stroke="#000" stroke-width="0.18" >60</text>
<line x1="209.78" y1="159.1" x2="209.78" y2="162.6" stroke="#000" stroke-width="1" />
<text x="209.78" y="168.1" font-size="5.6" font-family='"Liberation Sans", sans-serif' font-weight="bold" fill="#000" text-anchor="middle" stroke="#000" stroke-width="0.18" >65</text>
<line x1="221.74" y1="159.1" x2="221.74" y2="162.6" stroke="#000" stroke-width="1" />
<text x="221.74" y="168.1" font-size="5.6" font-family='"Liberation Sans", sans-serif' font-weight="bold" fill="#000" text-anchor="middle" stroke="#000" stroke-width="0.18" >70</text>
<line x1="233.7" y1="159.1" x2="233.7" y2="162.6" stroke="#000" stroke-width="1" />
<text x="233.7" y="168.1" font-size="5.6" font-family='"Liberation Sans", sans-serif' font-weight="bold" fill="#000" text-anchor="middle" stroke="#000" stroke-width="0.18" >75</text>
<line x1="245.66" y1="159.1" x2="245.66" y2="162.6" stroke="#000" stroke-width="1" />
<text x="245.66" y="168.1" font-size="5.6" font-family='"Liberation Sans", sans-serif' font-weight="bold" fill="#000" text-anchor="middle" stroke="#000" stroke-width="0.18" >80</text>
<line x1="257.62" y1="159.1" x2="257.62" y2="162.6" stroke="#000" stroke-width="1" />
<text x="257.62" y="168.1" font-size="5.6" font-family='"Liberation Sans", sans-serif' font-weight="bold" fill="#000" text-anchor="middle" stroke="#000" stroke-width="0.18" >85</text>
<line x1="269.58" y1="159.1" x2="269.58" y2="162.6" stroke="#000" stroke-width="1" />
<text x="269.58" y="168.1" font-size="5.6" font-family='"Liberation Sans", sans-serif' font-weight="bold" fill="#000" text-anchor="middle" stroke="#000" stroke-width="0.18" >90</text>
<line x1="281.54" y1="159.1" x2="281.54" y2="162.6" stroke="#000" stroke-width="1" />
<text x="281.54" y="168.1" font-size="5.6" font-family='"Liberation Sans", sans-serif' font-weight="bold" fill="#000" text-anchor="middle" stroke="#000" stroke-width="0.18" >95</text>
<line x1="293.5" y1="159.1" x2="293.5" y2="162.6" stroke="#000" stroke-width="1" />
<text x="293.5" y="168.1" font-size="5.6" font-family='"Liberation Sans", sans-serif' font-weight="bold" fill="#000" text-anchor="middle" stroke="#000" stroke-width="0.18" >100</text>
<text x="174.2" y="180" font-size="6.2" font-family='"Liberation Sans", sans-serif' font-weight="bold" fill="#000" text-anchor="middle" stroke="#000" stroke-width="0.18" textLength="54" lengthAdjust="spacingAndGlyphs" >Time-Interval(Hour)</text>
<g transform="translate(41,92.4) rotate(-90)">
<text x="0" y="0" font-size="6.4" font-family='"Liberation Sans", sans-serif' font-weight="bold" fill="#000" text-anchor="middle" stroke="#000" stroke-width="0.18" textLength="28.8" lengthAdjust="spacingAndGlyphs" >Cell Index</text>
</g>
<text x="332.6" y="19.9" font-size="29.5" font-family='"Liberation Serif", serif' font-weight="normal" fill="#000" text-anchor="start" >b</text>
<path d="M374.1,135.42 C374.4,135.04 375,134.27 375.6,133.52 C376.2,132.76 376.5,132.35 377.1,131.64 C377.7,130.94 378,130.77 378.6,129.99 C379.2,129.21 379.5,128.69 380.1,127.76 C380.7,126.82 381,126.29 381.6,125.31 C382.2,124.33 382.5,123.84 383.1,122.86 C383.7,121.88 384,121.39 384.6,120.41 C385.2,119.43 385.5,118.94 386.1,117.96 C386.7,116.98 387,116.4 387.6,115.51 C388.2,114.62 388.5,114.11 389.1,113.52 C389.7,112.93 390,112.94 390.6,112.57 C391.2,112.19 391.5,112 392.1,111.63 C392.7,111.25 393,111.06 393.6,110.69 C394.2,110.31 394.5,110.12 395.1,109.75 C395.7,109.37 396,109.18 396.6,108.81 C397.2,108.43 397.5,108.22 398.1,107.87 C398.7,107.52 399,107.38 399.6,107.05 C400.2,106.73 400.5,106.58 401.1,106.26 C401.7,105.94 402,105.79 402.6,105.47 C403.2,105.15 403.5,104.99 404.1,104.68 C404.7,104.36 405,104.21 405.6,103.88 C406.2,103.56 406.5,103.44 407.1,103.05 C407.7,102.65 408,102.39 408.6,101.9 C409.2,101.41 409.5,101.11 410.1,100.59 C410.7,100.07 411,99.81 411.6,99.28 C412.2,98.76 412.5,98.5 413.1,97.97 C413.7,97.45 414,97.19 414.6,96.67 C415.2,96.14 415.5,95.88 416.1,95.36 C416.7,94.83 417,94.63 417.6,94.05 C418.2,93.46 418.5,93.08 419.1,92.43 C419.7,91.79 420,91.46 420.6,90.82 C421.2,90.17 421.5,89.85 422.1,89.2 C422.7,88.56 423,88.23 423.6,87.59 C424.2,86.94 424.5,86.62 425.1,85.97 C425.7,85.32 426,84.93 426.6,84.35 C427.2,83.78 427.5,83.56 428.1,83.11 C428.7,82.66 429,82.51 429.6,82.11 C430.2,81.71 430.5,81.51 431.1,81.11 C431.7,80.71 432,80.51 432.6,80.11 C433.2,79.71 433.5,79.51 434.1,79.11 C434.7,78.71 435,78.51 435.6,78.11 C436.2,77.72 436.5,77.49 437.1,77.15 C437.7,76.82 438,76.73 438.6,76.45 C439.2,76.17 439.5,76.03 440.1,75.75 C440.7,75.47 441,75.29 441.6,75.05 C442.2,74.81 442.5,74.75 443.1,74.56 C443.7,74.37 444,74.29 444.6,74.11 C445.2,73.93 445.5,73.84 446.1,73.67 C446.7,73.49 447,73.4 447.6,73.22 C448.2,73.05 448.5,72.96 449.1,72.79 C449.7,72.61 450,72.52 450.6,72.35 C451.2,72.17 451.5,72.08 452.1,71.91 C452.7,71.73 453,71.65 453.6,71.47 C454.2,71.3 454.5,71.21 455.1,71.03 C455.7,70.86 456,70.77 456.6,70.59 C457.2,70.42 457.5,70.33 458.1,70.16 C458.7,69.98 459,69.86 459.6,69.72 C460.2,69.57 460.5,69.53 461.1,69.42 C461.7,69.32 462,69.28 462.6,69.18 C463.2,69.09 463.5,69.04 464.1,68.94 C464.7,68.85 465,68.8 465.6,68.7 C466.2,68.61 466.5,68.56 467.1,68.46 C467.7,68.36 468,68.32 468.6,68.22 C469.2,68.12 469.5,68.08 470.1,67.98 C470.7,67.88 471,67.84 471.6,67.74 C472.2,67.64 472.5,67.59 473.1,67.5 C473.7,67.4 474,67.35 474.6,67.26 C475.2,67.16 475.5,67.11 476.1,67.02 C476.7,66.92 477,66.87 477.6,66.78 C478.2,66.68 478.5,66.63 479.1,66.54 C479.7,66.44 480,66.39 480.6,66.29 C481.2,66.2 481.5,66.15 482.1,66.05 C482.7,65.96 483,65.91 483.6,65.81 C484.2,65.72 484.5,65.67 485.1,65.57 C485.7,65.48 486,65.41 486.6,65.33 C487.2,65.26 487.5,65.25 488.1,65.19 C488.7,65.14 489,65.12 489.6,65.07 C490.2,65.02 490.5,65 491.1,64.95 C491.7,64.9 492,64.88 492.6,64.83 C493.2,64.78 493.5,64.76 494.1,64.71 C494.7,64.66 495,64.63 495.6,64.59 C496.2,64.54 496.5,64.51 497.1,64.46 C497.7,64.41 498,64.39 498.6,64.34 C499.2,64.29 499.5,64.27 500.1,64.22 C500.7,64.17 501,64.15 501.6,64.1 C502.2,64.05 502.5,64.03 503.1,63.98 C503.7,63.93 504,63.9 504.6,63.85 C505.2,63.81 505.5,63.78 506.1,63.73 C506.7,63.68 507,63.66 507.6,63.61 C508.2,63.56 508.5,63.54 509.1,63.49 C509.7,63.44 510,63.42 510.6,63.38 C511.2,63.34 511.5,63.33 512.1,63.29 C512.7,63.26 513,63.24 513.6,63.21 C514.2,63.17 514.5,63.16 515.1,63.12 C515.7,63.09 516,63.07 516.6,63.04 C517.2,63 517.5,62.98 518.1,62.95 C518.7,62.92 519,62.9 519.6,62.87 C520.2,62.83 520.5,62.81 521.1,62.78 C521.7,62.75 522,62.73 522.6,62.69 C523.2,62.66 523.5,62.64 524.1,62.61 C524.7,62.58 525,62.56 525.6,62.52 C526.2,62.49 526.5,62.47 527.1,62.44 C527.7,62.4 528,62.39 528.6,62.35 C529.2,62.32 529.5,62.3 530.1,62.27 C530.7,62.23 531,62.22 531.6,62.18 C532.2,62.15 532.5,62.13 533.1,62.1 C533.7,62.06 534,62.05 534.6,62.01 C535.2,61.98 535.5,61.96 536.1,61.93 C536.7,61.89 537,61.88 537.6,61.84 C538.2,61.81 538.5,61.79 539.1,61.76 C539.7,61.72 540,61.7 540.6,61.67 C541.2,61.64 541.5,61.62 542.1,61.59 C542.7,61.55 543.3,61.52 543.6,61.5 C543.9,61.48 543.6,61.5 543.6,61.5 L543.6,81.5 L543.6,81.5 L542.1,81.59 L540.6,81.67 L539.1,81.76 L537.6,81.84 L536.1,81.93 L534.6,82.01 L533.1,82.1 L531.6,82.18 L530.1,82.27 L528.6,82.35 L527.1,82.44 L525.6,82.52 L524.1,82.61 L522.6,82.69 L521.1,82.78 L519.6,82.87 L518.1,82.95 L516.6,83.04 L515.1,83.12 L513.6,83.21 L512.1,83.29 L510.6,83.38 L509.1,83.49 L507.6,83.61 L506.1,83.73 L504.6,83.85 L503.1,83.98 L501.6,84.1 L500.1,84.22 L498.6,84.34 L497.1,84.46 L495.6,84.59 L494.1,84.71 L492.6,84.83 L491.1,84.95 L489.6,85.07 L488.1,85.19 L486.6,85.33 L485.1,85.57 L483.6,85.81 L482.1,86.05 L480.6,86.29 L479.1,86.54 L477.6,86.78 L476.1,87.02 L474.6,87.26 L473.1,87.5 L471.6,87.74 L470.1,87.98 L468.6,88.22 L467.1,88.46 L465.6,88.7 L464.1,88.94 L462.6,89.18 L461.1,89.42 L459.6,89.72 L458.1,90.16 L456.6,90.59 L455.1,91.03 L453.6,91.47 L452.1,91.91 L450.6,92.35 L449.1,92.79 L447.6,93.22 L446.1,93.67 L444.6,94.11 L443.1,94.56 L441.6,94.96 L440.1,95.15 L438.6,95.34 L437.1,95.53 L435.6,95.97 L434.1,96.46 L432.6,96.94 L431.1,97.43 L429.6,97.92 L428.1,98.4 L426.6,99.13 L425.1,100.24 L423.6,101.34 L422.1,102.44 L420.6,103.54 L419.1,104.65 L417.6,105.75 L416.1,106.55 L414.6,107.34 L413.1,108.14 L411.6,108.93 L410.1,109.73 L408.6,110.52 L407.1,111.15 L405.6,111.82 L404.1,112.52 L402.6,113.23 L401.1,113.94 L399.6,114.65 L398.1,115.37 L396.6,116.23 L395.1,117.08 L393.6,117.93 L392.1,118.79 L390.6,119.64 L389.1,120.48 L387.6,122.11 L386.1,124.19 L384.6,126.27 L383.1,128.36 L381.6,130.44 L380.1,132.52 L378.6,134.39 L377.1,135.68 L375.6,136.74 L374.1,137.78 Z" fill="#b4b4b4" fill-opacity="0.55" stroke="#888" stroke-width="0.6" stroke-opacity="0.8"/>
<path d="M374.1,135.05 C374.4,133.28 375,128.74 375.6,126.19 C376.2,123.63 376.5,123.26 377.1,122.26 C377.7,121.26 378,121.75 378.6,121.17 C379.2,120.6 379.5,120.15 380.1,119.39 C380.7,118.62 381,118.17 381.6,117.35 C382.2,116.53 382.5,116.13 383.1,115.31 C383.7,114.5 384,114.09 384.6,113.27 C385.2,112.46 385.5,112.05 386.1,111.23 C386.7,110.42 387,109.97 387.6,109.2 C388.2,108.42 388.5,108.03 389.1,107.36 C389.7,106.69 390,106.47 390.6,105.87 C391.2,105.27 391.5,104.97 392.1,104.37 C392.7,103.77 393,103.47 393.6,102.87 C394.2,102.27 394.5,101.97 395.1,101.37 C395.7,100.77 396,100.47 396.6,99.87 C397.2,99.27 397.5,98.87 398.1,98.37 C398.7,97.87 399,97.76 399.6,97.39 C400.2,97.01 400.5,96.84 401.1,96.48 C401.7,96.12 402,95.94 402.6,95.58 C403.2,95.22 403.5,95.04 404.1,94.68 C404.7,94.31 405,94.13 405.6,93.77 C406.2,93.41 406.5,93.2 407.1,92.89 C407.7,92.57 408,92.44 408.6,92.2 C409.2,91.95 409.5,91.87 410.1,91.65 C410.7,91.44 411,91.33 411.6,91.11 C412.2,90.89 412.5,90.78 413.1,90.57 C413.7,90.35 414,90.24 414.6,90.03 C415.2,89.81 415.5,89.7 416.1,89.48 C416.7,89.27 417,89.16 417.6,88.94 C418.2,88.72 418.5,88.61 419.1,88.4 C419.7,88.18 420,88.07 420.6,87.85 C421.2,87.64 421.5,87.52 422.1,87.31 C422.7,87.1 423,86.96 423.6,86.8 C424.2,86.65 424.5,86.65 425.1,86.56 C425.7,86.46 426,86.42 426.6,86.34 C427.2,86.25 427.5,86.2 428.1,86.12 C428.7,86.03 429,85.99 429.6,85.9 C430.2,85.81 430.5,85.77 431.1,85.68 C431.7,85.59 432,85.55 432.6,85.46 C433.2,85.37 433.5,85.33 434.1,85.24 C434.7,85.15 435,85.1 435.6,85.02 C436.2,84.94 436.5,84.87 437.1,84.82 C437.7,84.77 438,84.78 438.6,84.76 C439.2,84.73 439.5,84.72 440.1,84.7 C440.7,84.67 441,84.66 441.6,84.64 C442.2,84.61 442.5,84.6 443.1,84.58 C443.7,84.55 444,84.54 444.6,84.51 C445.2,84.49 445.5,84.48 446.1,84.45 C446.7,84.43 447,84.42 447.6,84.39 C448.2,84.37 448.5,84.36 449.1,84.33 C449.7,84.31 450,84.29 450.6,84.27 C451.2,84.24 451.5,84.23 452.1,84.21 C452.7,84.18 453,84.12 453.6,84.15 C454.2,84.17 454.5,84.24 455.1,84.32 C455.7,84.41 456,84.48 456.6,84.59 C457.2,84.69 457.5,84.74 458.1,84.85 C458.7,84.95 459,85.01 459.6,85.11 C460.2,85.22 460.5,85.27 461.1,85.37 C461.7,85.48 462,85.56 462.6,85.64 C463.2,85.71 463.5,85.74 464.1,85.76 C464.7,85.77 465,85.73 465.6,85.72 C466.2,85.7 466.5,85.69 467.1,85.68 C467.7,85.66 468,85.65 468.6,85.64 C469.2,85.62 469.5,85.61 470.1,85.6 C470.7,85.58 471,85.57 471.6,85.56 C472.2,85.54 472.5,85.53 473.1,85.51 C473.7,85.5 474,85.49 474.6,85.47 C475.2,85.46 475.5,85.46 476.1,85.43 C476.7,85.41 477,85.4 477.6,85.36 C478.2,85.33 478.5,85.3 479.1,85.25 C479.7,85.21 480,85.19 480.6,85.15 C481.2,85.1 481.5,85.08 482.1,85.04 C482.7,84.99 483,84.97 483.6,84.93 C484.2,84.89 484.5,84.86 485.1,84.82 C485.7,84.78 486,84.72 486.6,84.71 C487.2,84.7 487.5,84.75 488.1,84.78 C488.7,84.81 489,84.84 489.6,84.87 C490.2,84.91 490.5,84.93 491.1,84.97 C491.7,85.01 492,85.03 492.6,85.06 C493.2,85.1 493.5,85.12 494.1,85.16 C494.7,85.2 495,85.22 495.6,85.25 C496.2,85.29 496.5,85.31 497.1,85.35 C497.7,85.39 498,85.41 498.6,85.44 C499.2,85.48 499.5,85.52 500.1,85.54 C500.7,85.56 501,85.56 501.6,85.54 C502.2,85.53 502.5,85.5 503.1,85.47 C503.7,85.43 504,85.42 504.6,85.39 C505.2,85.36 505.5,85.34 506.1,85.31 C506.7,85.28 507,85.27 507.6,85.24 C508.2,85.21 508.5,85.19 509.1,85.16 C509.7,85.13 510,85.11 510.6,85.08 C511.2,85.05 511.5,85.04 512.1,85.01 C512.7,84.98 513,84.96 513.6,84.93 C514.2,84.9 514.5,84.88 515.1,84.85 C515.7,84.82 516,84.81 516.6,84.78 C517.2,84.75 517.5,84.73 518.1,84.7 C518.7,84.67 519,84.65 519.6,84.62 C520.2,84.59 520.5,84.58 521.1,84.55 C521.7,84.52 522,84.5 522.6,84.47 C523.2,84.44 523.5,84.42 524.1,84.39 C524.7,84.36 525,84.35 525.6,84.32 C526.2,84.29 526.5,84.27 527.1,84.24 C527.7,84.21 528,84.2 528.6,84.16 C529.2,84.13 529.5,84.12 530.1,84.09 C530.7,84.06 531,84.04 531.6,84.01 C532.2,83.98 532.5,83.97 533.1,83.94 C533.7,83.9 534,83.89 534.6,83.86 C535.2,83.83 535.5,83.81 536.1,83.78 C536.7,83.75 537,83.74 537.6,83.71 C538.2,83.68 538.5,83.66 539.1,83.63 C539.7,83.6 540,83.58 540.6,83.55 C541.2,83.52 541.5,83.51 542.1,83.48 C542.7,83.45 543.3,83.42 543.6,83.4 C543.9,83.38 543.6,83.4 543.6,83.4 L543.6,105.4 L543.6,105.4 L542.1,105.32 L540.6,105.25 L539.1,105.17 L537.6,105.09 L536.1,105.02 L534.6,104.94 L533.1,104.86 L531.6,104.79 L530.1,104.71 L528.6,104.64 L527.1,104.56 L525.6,104.48 L524.1,104.41 L522.6,104.33 L521.1,104.25 L519.6,104.18 L518.1,104.1 L516.6,104.02 L515.1,103.95 L513.6,103.87 L512.1,103.79 L510.6,103.72 L509.1,103.64 L507.6,103.56 L506.1,103.49 L504.6,103.41 L503.1,103.33 L501.6,103.26 L500.1,103.1 L498.6,102.85 L497.1,102.61 L495.6,102.36 L494.1,102.11 L492.6,101.86 L491.1,101.61 L489.6,101.37 L488.1,101.12 L486.6,100.9 L485.1,100.85 L483.6,100.81 L482.1,100.76 L480.6,100.72 L479.1,100.67 L477.6,100.63 L476.1,100.62 L474.6,100.65 L473.1,100.67 L471.6,100.69 L470.1,100.72 L468.6,100.74 L467.1,100.76 L465.6,100.79 L464.1,100.81 L462.6,100.67 L461.1,100.39 L459.6,100.11 L458.1,99.83 L456.6,99.55 L455.1,99.27 L453.6,99.08 L452.1,99.13 L450.6,99.17 L449.1,99.21 L447.6,99.26 L446.1,99.3 L444.6,99.35 L443.1,99.39 L441.6,99.43 L440.1,99.48 L438.6,99.52 L437.1,99.57 L435.6,99.75 L434.1,99.95 L432.6,100.15 L431.1,100.35 L429.6,100.56 L428.1,100.76 L426.6,100.96 L425.1,101.17 L423.6,101.34 L422.1,101.71 L420.6,102.12 L419.1,102.52 L417.6,102.93 L416.1,103.33 L414.6,103.74 L413.1,104.14 L411.6,104.55 L410.1,104.96 L408.6,105.36 L407.1,105.91 L405.6,106.53 L404.1,107.12 L402.6,107.72 L401.1,108.32 L399.6,108.91 L398.1,109.59 L396.6,110.78 L395.1,111.97 L393.6,113.16 L392.1,114.35 L390.6,115.55 L389.1,116.74 L387.6,118.41 L386.1,120.28 L384.6,122.14 L383.1,124.01 L381.6,125.88 L380.1,127.75 L378.6,129.36 L377.1,130.27 L375.6,131.86 L374.1,138.15 Z" fill="#b4b4b4" fill-opacity="0.55" stroke="#888" stroke-width="0.6" stroke-opacity="0.8"/>
<line x1="456.4" y1="71.5" x2="456.4" y2="99.5" stroke="#999" stroke-width="0.4" />
<path d="M374.1,136.6 C374.92,135.8 376.58,135.02 379,131.8 C381.42,128.58 385.38,120.68 388.6,117.3 C391.82,113.92 395.08,113.27 398.3,111.5 C401.52,109.73 404.68,108.63 407.9,106.7 C411.12,104.77 414.38,102.48 417.6,99.9 C420.82,97.32 423.98,93.45 427.2,91.2 C430.42,88.95 433.6,87.7 436.9,86.4 C440.2,85.1 443.15,84.53 447,83.4 C450.85,82.27 453.37,80.95 460,79.6 C466.63,78.25 478.43,76.33 486.8,75.3 C495.17,74.27 500.73,74.03 510.2,73.4 C519.67,72.77 538.03,71.82 543.6,71.5" fill="none" stroke="#ee6a58" stroke-width="1.1"/>
<path d="M374.1,136.6 C374.42,135 375.18,128.93 376,127 C376.82,125.07 376.9,127.42 379,125 C381.1,122.58 385.38,116.03 388.6,112.5 C391.82,108.97 395.08,106.05 398.3,103.8 C401.52,101.55 403.72,100.62 407.9,99 C412.08,97.38 418.57,95.23 423.4,94.1 C428.23,92.97 431.8,92.62 436.9,92.2 C442,91.78 449.58,91.42 454,91.6 C458.42,91.78 457.93,93.1 463.4,93.3 C468.87,93.5 480.57,92.62 486.8,92.8 C493.03,92.98 491.33,94.13 500.8,94.4 C510.27,94.67 536.47,94.4 543.6,94.4" fill="none" stroke="#4f66ee" stroke-width="1.1"/>
<line x1="371.7" y1="21" x2="371.7" y2="137.6" stroke="#000" stroke-width="0.8" />
<line x1="371.3" y1="137.2" x2="547.3" y2="137.2" stroke="#000" stroke-width="0.8" />
<line x1="369.6" y1="129.47" x2="371.7" y2="129.47" stroke="#000" stroke-width="0.6" />
<text x="369.2" y="131.07" font-size="4.4" font-family='"Liberation Sans", sans-serif' font-weight="bold" fill="#000" text-anchor="end" >2</text>
<line x1="369.6" y1="114.01" x2="371.7" y2="114.01" stroke="#000" stroke-width="0.6" />
<text x="369.2" y="115.61" font-size="4.4" font-family='"Liberation Sans", sans-serif' font-weight="bold" fill="#000" text-anchor="end" >4</text>
<line x1="369.6" y1="98.55" x2="371.7" y2="98.55" stroke="#000" stroke-width="0.6" />
<text x="369.2" y="100.15" font-size="4.4" font-family='"Liberation Sans", sans-serif' font-weight="bold" fill="#000" text-anchor="end" >6</text>
<line x1="369.6" y1="83.09" x2="371.7" y2="83.09" stroke="#000" stroke-width="0.6" />
<text x="369.2" y="84.69" font-size="4.4" font-family='"Liberation Sans", sans-serif' font-weight="bold" fill="#000" text-anchor="end" >8</text>
<line x1="369.6" y1="67.63" x2="371.7" y2="67.63" stroke="#000" stroke-width="0.6" />
<text x="369.2" y="69.23" font-size="4.4" font-family='"Liberation Sans", sans-serif' font-weight="bold" fill="#000" text-anchor="end" >10</text>
<line x1="369.6" y1="52.17" x2="371.7" y2="52.17" stroke="#000" stroke-width="0.6" />
<text x="369.2" y="53.77" font-size="4.4" font-family='"Liberation Sans", sans-serif' font-weight="bold" fill="#000" text-anchor="end" >12</text>
<line x1="369.6" y1="36.71" x2="371.7" y2="36.71" stroke="#000" stroke-width="0.6" />
<text x="369.2" y="38.31" font-size="4.4" font-family='"Liberation Sans", sans-serif' font-weight="bold" fill="#000" text-anchor="end" >14</text>
<line x1="369.6" y1="21.25" x2="371.7" y2="21.25" stroke="#000" stroke-width="0.6" />
<text x="369.2" y="22.85" font-size="4.4" font-family='"Liberation Sans", sans-serif' font-weight="bold" fill="#000" text-anchor="end" >16</text>
<line x1="380.47" y1="137.2" x2="380.47" y2="139.7" stroke="#000" stroke-width="0.6" />
<text x="380.47" y="144.8" font-size="4.2" font-family='"Liberation Sans", sans-serif' font-weight="bold" fill="#000" text-anchor="middle" >5</text>
<line x1="389.24" y1="137.2" x2="389.24" y2="139.7" stroke="#000" stroke-width="0.6" />
<text x="389.24" y="144.8" font-size="4.2" font-family='"Liberation Sans", sans-serif' font-weight="bold" fill="#000" text-anchor="middle" >10</text>
<line x1="398.01" y1="137.2" x2="398.01" y2="139.7" stroke="#000" stroke-width="0.6" />
<text x="398.01" y="144.8" font-size="4.2" font-family='"Liberation Sans", sans-serif' font-weight="bold" fill="#000" text-anchor="middle" >15</text>
<line x1="406.78" y1="137.2" x2="406.78" y2="139.7" stroke="#000" stroke-width="0.6" />
<text x="406.78" y="144.8" font-size="4.2" font-family='"Liberation Sans", sans-serif' font-weight="bold" fill="#000" text-anchor="middle" >20</text>
<line x1="415.55" y1="137.2" x2="415.55" y2="139.7" stroke="#000" stroke-width="0.6" />
<text x="415.55" y="144.8" font-size="4.2" font-family='"Liberation Sans", sans-serif' font-weight="bold" fill="#000" text-anchor="middle" >25</text>
<line x1="424.32" y1="137.2" x2="424.32" y2="139.7" stroke="#000" stroke-width="0.6" />
<text x="424.32" y="144.8" font-size="4.2" font-family='"Liberation Sans", sans-serif' font-weight="bold" fill="#000" text-anchor="middle" >30</text>
<line x1="433.09" y1="137.2" x2="433.09" y2="139.7" stroke="#000" stroke-width="0.6" />
<text x="433.09" y="144.8" font-size="4.2" font-family='"Liberation Sans", sans-serif' font-weight="bold" fill="#000" text-anchor="middle" >35</text>
<line x1="441.86" y1="137.2" x2="441.86" y2="139.7" stroke="#000" stroke-width="0.6" />
<text x="441.86" y="144.8" font-size="4.2" font-family='"Liberation Sans", sans-serif' font-weight="bold" fill="#000" text-anchor="middle" >40</text>
<line x1="450.63" y1="137.2" x2="450.63" y2="139.7" stroke="#000" stroke-width="0.6" />
<text x="450.63" y="144.8" font-size="4.2" font-family='"Liberation Sans", sans-serif' font-weight="bold" fill="#000" text-anchor="middle" >45</text>
<line x1="459.4" y1="137.2" x2="459.4" y2="139.7" stroke="#000" stroke-width="0.6" />
<text x="459.4" y="144.8" font-size="4.2" font-family='"Liberation Sans", sans-serif' font-weight="bold" fill="#000" text-anchor="middle" >50</text>
<line x1="468.17" y1="137.2" x2="468.17" y2="139.7" stroke="#000" stroke-width="0.6" />
<text x="468.17" y="144.8" font-size="4.2" font-family='"Liberation Sans", sans-serif' font-weight="bold" fill="#000" text-anchor="middle" >55</text>
<line x1="476.94" y1="137.2" x2="476.94" y2="139.7" stroke="#000" stroke-width="0.6" />
<text x="476.94" y="144.8" font-size="4.2" font-family='"Liberation Sans", sans-serif' font-weight="bold" fill="#000" text-anchor="middle" >60</text>
<line x1="485.71" y1="137.2" x2="485.71" y2="139.7" stroke="#000" stroke-width="0.6" />
<text x="485.71" y="144.8" font-size="4.2" font-family='"Liberation Sans", sans-serif' font-weight="bold" fill="#000" text-anchor="middle" >65</text>
<line x1="494.48" y1="137.2" x2="494.48" y2="139.7" stroke="#000" stroke-width="0.6" />
<text x="494.48" y="144.8" font-size="4.2" font-family='"Liberation Sans", sans-serif' font-weight="bold" fill="#000" text-anchor="middle" >70</text>
<line x1="503.25" y1="137.2" x2="503.25" y2="139.7" stroke="#000" stroke-width="0.6" />
<text x="503.25" y="144.8" font-size="4.2" font-family='"Liberation Sans", sans-serif' font-weight="bold" fill="#000" text-anchor="middle" >75</text>
<line x1="512.02" y1="137.2" x2="512.02" y2="139.7" stroke="#000" stroke-width="0.6" />
<text x="512.02" y="144.8" font-size="4.2" font-family='"Liberation Sans", sans-serif' font-weight="bold" fill="#000" text-anchor="middle" >80</text>
<line x1="520.79" y1="137.2" x2="520.79" y2="139.7" stroke="#000" stroke-width="0.6" />
<text x="520.79" y="144.8" font-size="4.2" font-family='"Liberation Sans", sans-serif' font-weight="bold" fill="#000" text-anchor="middle" >85</text>
<line x1="529.56" y1="137.2" x2="529.56" y2="139.7" stroke="#000" stroke-width="0.6" />
<text x="529.56" y="144.8" font-size="4.2" font-family='"Liberation Sans", sans-serif' font-weight="bold" fill="#000" text-anchor="middle" >90</text>
<line x1="538.33" y1="137.2" x2="538.33" y2="139.7" stroke="#000" stroke-width="0.6" />
<text x="538.33" y="144.8" font-size="4.2" font-family='"Liberation Sans", sans-serif' font-weight="bold" fill="#000" text-anchor="middle" >95</text>
<line x1="547.1" y1="137.2" x2="547.1" y2="139.7" stroke="#000" stroke-width="0.6" />
<text x="547.1" y="144.8" font-size="4.2" font-family='"Liberation Sans", sans-serif' font-weight="bold" fill="#000" text-anchor="middle" >100</text>
<text x="456.2" y="151.8" font-size="4.3" font-family='"Liberation Sans", sans-serif' font-weight="bold" fill="#000" text-anchor="middle" textLength="39.7" lengthAdjust="spacingAndGlyphs" >Time-Interval(Hour)</text>
<g transform="translate(361.5,86) rotate(-90)">
<text x="0" y="0" font-size="4.6" font-family='"Liberation Sans", sans-serif' font-weight="bold" fill="#000" text-anchor="middle" textLength="22" lengthAdjust="spacingAndGlyphs" >Cell Index</text>
</g>
<line x1="435.2" y1="159.2" x2="441.6" y2="159.2" stroke="#f5a090" stroke-width="0.8" />
<text x="444.8" y="160.8" font-size="4.5" font-family='"Liberation Sans", sans-serif' font-weight="normal" fill="#222" text-anchor="start" textLength="10" lengthAdjust="spacingAndGlyphs" >Case</text>
<line x1="468.5" y1="159.2" x2="474.9" y2="159.2" stroke="#a0a8f5" stroke-width="0.8" />
<text x="478" y="160.8" font-size="4.5" font-family='"Liberation Sans", sans-serif' font-weight="normal" fill="#222" text-anchor="start" textLength="13.5" lengthAdjust="spacingAndGlyphs" >Control</text>
<rect x="600.6" y="73.2" width="25.7" height="53.2" fill="#ff0000" stroke="#1a1a1a" stroke-width="1"/>
<rect x="640.5" y="90.21" width="26" height="36.19" fill="#0000ff" stroke="#1a1a1a" stroke-width="1"/>
<line x1="613.3" y1="65.6" x2="613.3" y2="80.5" stroke="#000" stroke-width="0.9" />
<line x1="607" y1="65.6" x2="620" y2="65.6" stroke="#000" stroke-width="0.9" />
<line x1="607" y1="80.5" x2="620" y2="80.5" stroke="#000" stroke-width="0.9" />
<line x1="653.4" y1="81.5" x2="653.4" y2="97.3" stroke="#000" stroke-width="0.9" />
<line x1="647" y1="81.5" x2="659.8" y2="81.5" stroke="#000" stroke-width="0.9" />
<line x1="647" y1="97.3" x2="659.8" y2="97.3" stroke="#000" stroke-width="0.9" />
<circle cx="613.3" cy="45.7" r="1.7" fill="#000"/>
<circle cx="613.3" cy="49.2" r="1.7" fill="#000"/>
<circle cx="613.3" cy="69.4" r="1.7" fill="#000"/>
<circle cx="613.3" cy="79.8" r="1.7" fill="#000"/>
<circle cx="613.3" cy="84.1" r="1.7" fill="#000"/>
<circle cx="609.8" cy="92.6" r="1.7" fill="#000"/>
<circle cx="616.9" cy="90.8" r="1.7" fill="#000"/>
<circle cx="653.5" cy="71.5" r="1.7" fill="#000"/>
<circle cx="653.5" cy="82" r="1.7" fill="#000"/>
<circle cx="653.4" cy="99.1" r="1.7" fill="#000"/>
<circle cx="653.4" cy="106.1" r="1.7" fill="#000"/>
<line x1="586.4" y1="41" x2="586.4" y2="126.9" stroke="#000" stroke-width="1" />
<line x1="586.4" y1="126.4" x2="671.2" y2="126.4" stroke="#000" stroke-width="1" />
<line x1="583.4" y1="126.4" x2="586.4" y2="126.4" stroke="#000" stroke-width="0.9" />
<text x="582" y="128.8" font-size="6.5" font-family='"Liberation Sans", sans-serif' font-weight="bold" fill="#000" text-anchor="end" stroke="#000" stroke-width="0.18" >0</text>
<line x1="583.4" y1="97.95" x2="586.4" y2="97.95" stroke="#000" stroke-width="0.9" />
<text x="582" y="100.35" font-size="6.5" font-family='"Liberation Sans", sans-serif' font-weight="bold" fill="#000" text-anchor="end" stroke="#000" stroke-width="0.18" >5</text>
<line x1="583.4" y1="69.5" x2="586.4" y2="69.5" stroke="#000" stroke-width="0.9" />
<text x="582" y="71.9" font-size="6.5" font-family='"Liberation Sans", sans-serif' font-weight="bold" fill="#000" text-anchor="end" stroke="#000" stroke-width="0.18" >10</text>
<line x1="583.4" y1="41.05" x2="586.4" y2="41.05" stroke="#000" stroke-width="0.9" />
<text x="582" y="43.45" font-size="6.5" font-family='"Liberation Sans", sans-serif' font-weight="bold" fill="#000" text-anchor="end" stroke="#000" stroke-width="0.18" >15</text>
<line x1="613.3" y1="126.4" x2="613.3" y2="130" stroke="#000" stroke-width="0.9" />
<line x1="653.4" y1="126.4" x2="653.4" y2="130" stroke="#000" stroke-width="0.9" />
<g transform="translate(571.4,83.7) rotate(-90)">
<text x="0" y="0" font-size="7" font-family='"Liberation Sans", sans-serif' font-weight="bold" fill="#000" text-anchor="middle" stroke="#000" stroke-width="0.18" textLength="32" lengthAdjust="spacingAndGlyphs" >Cell Index</text>
</g>
<text x="613.4" y="136.9" font-size="6.6" font-family='"Liberation Sans", sans-serif' font-weight="bold" fill="#000" text-anchor="middle" stroke="#000" stroke-width="0.18" textLength="15" lengthAdjust="spacingAndGlyphs" >Case</text>
<text x="653.6" y="136.9" font-size="6.6" font-family='"Liberation Sans", sans-serif' font-weight="bold" fill="#000" text-anchor="middle" stroke="#000" stroke-width="0.18" textLength="23" lengthAdjust="spacingAndGlyphs" >Control</text>
<text x="633.4" y="147.4" font-size="7.2" font-family='"Liberation Sans", sans-serif' font-weight="normal" fill="#000" text-anchor="middle" stroke="#000" stroke-width="0.18" textLength="46.9" lengthAdjust="spacingAndGlyphs" >Endometriosis</text>
<text x="-0.9" y="210.5" font-size="29.5" font-family='"Liberation Serif", serif' font-weight="normal" fill="#000" text-anchor="start" >c</text>
<line x1="58.3" y1="270.1" x2="222" y2="270.1" stroke="#c8c8c8" stroke-width="0.7" />
<line x1="58.3" y1="302.5" x2="222" y2="302.5" stroke="#c8c8c8" stroke-width="0.7" />
<line x1="58.3" y1="237.7" x2="222" y2="237.7" stroke="#111" stroke-width="0.8" stroke-dasharray="1,1"/>
<line x1="58.3" y1="216.1" x2="58.3" y2="324.6" stroke="#000" stroke-width="0.9" />
<line x1="57.9" y1="324.1" x2="221.5" y2="324.1" stroke="#000" stroke-width="0.9" />
<line x1="55.7" y1="216.1" x2="58.3" y2="216.1" stroke="#000" stroke-width="0.8" />
<text x="55.2" y="218.7" font-size="6.5" font-family='"Liberation Sans", sans-serif' font-weight="bold" fill="#000" text-anchor="end" stroke="#000" stroke-width="0.18" >1.0</text>
<line x1="55.7" y1="226.9" x2="58.3" y2="226.9" stroke="#000" stroke-width="0.8" />
<text x="55.2" y="229.5" font-size="6.5" font-family='"Liberation Sans", sans-serif' font-weight="bold" fill="#000" text-anchor="end" stroke="#000" stroke-width="0.18" >0.8</text>
<line x1="55.7" y1="237.7" x2="58.3" y2="237.7" stroke="#000" stroke-width="0.8" />
<text x="55.2" y="240.3" font-size="6.5" font-family='"Liberation Sans", sans-serif' font-weight="bold" fill="#000" text-anchor="end" stroke="#000" stroke-width="0.18" >0.6</text>
<line x1="55.7" y1="248.5" x2="58.3" y2="248.5" stroke="#000" stroke-width="0.8" />
<text x="55.2" y="251.1" font-size="6.5" font-family='"Liberation Sans", sans-serif' font-weight="bold" fill="#000" text-anchor="end" stroke="#000" stroke-width="0.18" >0.4</text>
<line x1="55.7" y1="259.3" x2="58.3" y2="259.3" stroke="#000" stroke-width="0.8" />
<text x="55.2" y="261.9" font-size="6.5" font-family='"Liberation Sans", sans-serif' font-weight="bold" fill="#000" text-anchor="end" stroke="#000" stroke-width="0.18" >0.2</text>
<line x1="55.7" y1="270.1" x2="58.3" y2="270.1" stroke="#000" stroke-width="0.8" />
<text x="55.2" y="272.7" font-size="6.5" font-family='"Liberation Sans", sans-serif' font-weight="bold" fill="#000" text-anchor="end" stroke="#000" stroke-width="0.18" >0.0</text>
<line x1="55.7" y1="280.9" x2="58.3" y2="280.9" stroke="#000" stroke-width="0.8" />
<text x="55.2" y="283.5" font-size="6.5" font-family='"Liberation Sans", sans-serif' font-weight="bold" fill="#000" text-anchor="end" stroke="#000" stroke-width="0.18" >-0.2</text>
<line x1="55.7" y1="291.7" x2="58.3" y2="291.7" stroke="#000" stroke-width="0.8" />
<text x="55.2" y="294.3" font-size="6.5" font-family='"Liberation Sans", sans-serif' font-weight="bold" fill="#000" text-anchor="end" stroke="#000" stroke-width="0.18" >-0.4</text>
<line x1="55.7" y1="302.5" x2="58.3" y2="302.5" stroke="#000" stroke-width="0.8" />
<text x="55.2" y="305.1" font-size="6.5" font-family='"Liberation Sans", sans-serif' font-weight="bold" fill="#000" text-anchor="end" stroke="#000" stroke-width="0.18" >-0.6</text>
<line x1="55.7" y1="313.3" x2="58.3" y2="313.3" stroke="#000" stroke-width="0.8" />
<text x="55.2" y="315.9" font-size="6.5" font-family='"Liberation Sans", sans-serif' font-weight="bold" fill="#000" text-anchor="end" stroke="#000" stroke-width="0.18" >-0.8</text>
<line x1="55.7" y1="324.1" x2="58.3" y2="324.1" stroke="#000" stroke-width="0.8" />
<text x="55.2" y="326.7" font-size="6.5" font-family='"Liberation Sans", sans-serif' font-weight="bold" fill="#000" text-anchor="end" stroke="#000" stroke-width="0.18" >-1.0</text>
<line x1="58.3" y1="324.1" x2="58.3" y2="327.3" stroke="#000" stroke-width="0.7" />
<g transform="translate(59.7,332.1) rotate(-45)">
<text x="0" y="0" font-size="6.3" font-family='"Liberation Sans", sans-serif' font-weight="bold" fill="#000" text-anchor="end" stroke="#000" stroke-width="0.18" >0</text>
</g>
<line x1="66.45" y1="324.1" x2="66.45" y2="327.3" stroke="#000" stroke-width="0.7" />
<g transform="translate(67.86,332.1) rotate(-45)">
<text x="0" y="0" font-size="6.3" font-family='"Liberation Sans", sans-serif' font-weight="bold" fill="#000" text-anchor="end" stroke="#000" stroke-width="0.18" >5</text>
</g>
<line x1="74.61" y1="324.1" x2="74.61" y2="327.3" stroke="#000" stroke-width="0.7" />
<g transform="translate(76.01,332.1) rotate(-45)">
<text x="0" y="0" font-size="6.3" font-family='"Liberation Sans", sans-serif' font-weight="bold" fill="#000" text-anchor="end" stroke="#000" stroke-width="0.18" >10</text>
</g>
<line x1="82.77" y1="324.1" x2="82.77" y2="327.3" stroke="#000" stroke-width="0.7" />
<g transform="translate(84.17,332.1) rotate(-45)">
<text x="0" y="0" font-size="6.3" font-family='"Liberation Sans", sans-serif' font-weight="bold" fill="#000" text-anchor="end" stroke="#000" stroke-width="0.18" >15</text>
</g>
<line x1="90.92" y1="324.1" x2="90.92" y2="327.3" stroke="#000" stroke-width="0.7" />
<g transform="translate(92.32,332.1) rotate(-45)">
<text x="0" y="0" font-size="6.3" font-family='"Liberation Sans", sans-serif' font-weight="bold" fill="#000" text-anchor="end" stroke="#000" stroke-width="0.18" >20</text>
</g>
<line x1="99.07" y1="324.1" x2="99.07" y2="327.3" stroke="#000" stroke-width="0.7" />
<g transform="translate(100.47,332.1) rotate(-45)">
<text x="0" y="0" font-size="6.3" font-family='"Liberation Sans", sans-serif' font-weight="bold" fill="#000" text-anchor="end" stroke="#000" stroke-width="0.18" >25</text>
</g>
<line x1="107.23" y1="324.1" x2="107.23" y2="327.3" stroke="#000" stroke-width="0.7" />
<g transform="translate(108.63,332.1) rotate(-45)">
<text x="0" y="0" font-size="6.3" font-family='"Liberation Sans", sans-serif' font-weight="bold" fill="#000" text-anchor="end" stroke="#000" stroke-width="0.18" >30</text>
</g>
<line x1="115.38" y1="324.1" x2="115.38" y2="327.3" stroke="#000" stroke-width="0.7" />
<g transform="translate(116.78,332.1) rotate(-45)">
<text x="0" y="0" font-size="6.3" font-family='"Liberation Sans", sans-serif' font-weight="bold" fill="#000" text-anchor="end" stroke="#000" stroke-width="0.18" >35</text>
</g>
<line x1="123.54" y1="324.1" x2="123.54" y2="327.3" stroke="#000" stroke-width="0.7" />
<g transform="translate(124.94,332.1) rotate(-45)">
<text x="0" y="0" font-size="6.3" font-family='"Liberation Sans", sans-serif' font-weight="bold" fill="#000" text-anchor="end" stroke="#000" stroke-width="0.18" >40</text>
</g>
<line x1="131.69" y1="324.1" x2="131.69" y2="327.3" stroke="#000" stroke-width="0.7" />
<g transform="translate(133.09,332.1) rotate(-45)">
<text x="0" y="0" font-size="6.3" font-family='"Liberation Sans", sans-serif' font-weight="bold" fill="#000" text-anchor="end" stroke="#000" stroke-width="0.18" >45</text>
</g>
<line x1="139.85" y1="324.1" x2="139.85" y2="327.3" stroke="#000" stroke-width="0.7" />
<g transform="translate(141.25,332.1) rotate(-45)">
<text x="0" y="0" font-size="6.3" font-family='"Liberation Sans", sans-serif' font-weight="bold" fill="#000" text-anchor="end" stroke="#000" stroke-width="0.18" >50</text>
</g>
<line x1="148" y1="324.1" x2="148" y2="327.3" stroke="#000" stroke-width="0.7" />
<g transform="translate(149.41,332.1) rotate(-45)">
<text x="0" y="0" font-size="6.3" font-family='"Liberation Sans", sans-serif' font-weight="bold" fill="#000" text-anchor="end" stroke="#000" stroke-width="0.18" >55</text>
</g>
<line x1="156.16" y1="324.1" x2="156.16" y2="327.3" stroke="#000" stroke-width="0.7" />
<g transform="translate(157.56,332.1) rotate(-45)">
<text x="0" y="0" font-size="6.3" font-family='"Liberation Sans", sans-serif' font-weight="bold" fill="#000" text-anchor="end" stroke="#000" stroke-width="0.18" >60</text>
</g>
<line x1="164.31" y1="324.1" x2="164.31" y2="327.3" stroke="#000" stroke-width="0.7" />
<g transform="translate(165.72,332.1) rotate(-45)">
<text x="0" y="0" font-size="6.3" font-family='"Liberation Sans", sans-serif' font-weight="bold" fill="#000" text-anchor="end" stroke="#000" stroke-width="0.18" >65</text>
</g>
<line x1="172.47" y1="324.1" x2="172.47" y2="327.3" stroke="#000" stroke-width="0.7" />
<g transform="translate(173.87,332.1) rotate(-45)">
<text x="0" y="0" font-size="6.3" font-family='"Liberation Sans", sans-serif' font-weight="bold" fill="#000" text-anchor="end" stroke="#000" stroke-width="0.18" >70</text>
</g>
<line x1="180.62" y1="324.1" x2="180.62" y2="327.3" stroke="#000" stroke-width="0.7" />
<g transform="translate(182.03,332.1) rotate(-45)">
<text x="0" y="0" font-size="6.3" font-family='"Liberation Sans", sans-serif' font-weight="bold" fill="#000" text-anchor="end" stroke="#000" stroke-width="0.18" >75</text>
</g>
<line x1="188.78" y1="324.1" x2="188.78" y2="327.3" stroke="#000" stroke-width="0.7" />
<g transform="translate(190.18,332.1) rotate(-45)">
<text x="0" y="0" font-size="6.3" font-family='"Liberation Sans", sans-serif' font-weight="bold" fill="#000" text-anchor="end" stroke="#000" stroke-width="0.18" >80</text>
</g>
<line x1="196.94" y1="324.1" x2="196.94" y2="327.3" stroke="#000" stroke-width="0.7" />
<g transform="translate(198.34,332.1) rotate(-45)">
<text x="0" y="0" font-size="6.3" font-family='"Liberation Sans", sans-serif' font-weight="bold" fill="#000" text-anchor="end" stroke="#000" stroke-width="0.18" >85</text>
</g>
<line x1="205.09" y1="324.1" x2="205.09" y2="327.3" stroke="#000" stroke-width="0.7" />
<g transform="translate(206.49,332.1) rotate(-45)">
<text x="0" y="0" font-size="6.3" font-family='"Liberation Sans", sans-serif' font-weight="bold" fill="#000" text-anchor="end" stroke="#000" stroke-width="0.18" >90</text>
</g>
<line x1="213.25" y1="324.1" x2="213.25" y2="327.3" stroke="#000" stroke-width="0.7" />
<g transform="translate(214.65,332.1) rotate(-45)">
<text x="0" y="0" font-size="6.3" font-family='"Liberation Sans", sans-serif' font-weight="bold" fill="#000" text-anchor="end" stroke="#000" stroke-width="0.18" >95</text>
</g>
<line x1="221.4" y1="324.1" x2="221.4" y2="327.3" stroke="#000" stroke-width="0.7" />
<g transform="translate(222.8,332.1) rotate(-45)">
<text x="0" y="0" font-size="6.3" font-family='"Liberation Sans", sans-serif' font-weight="bold" fill="#000" text-anchor="end" stroke="#000" stroke-width="0.18" >100</text>
</g>
<text x="130.7" y="234.7" font-size="7.5" font-family='"Liberation Sans", sans-serif' font-weight="normal" fill="#111" text-anchor="start" stroke="#111" stroke-width="0.18" textLength="98.5" lengthAdjust="spacingAndGlyphs" >Correlation reaches significance</text>
<path d="M60.9,284.1 L61.3,274.3 L61.6,267 L62.6,263.1 L63.5,258.5 L64.2,255.2 L68.1,252.6 L69.2,249.3 L70.1,245.4 L71.4,239.5 L72.7,235.8 L74.7,236.2 L75.4,241.4 L76.7,242.1 L77.3,246.7 L80,247.3 L81.3,251.3 L81.9,257.9 L82.3,261.8 L83.9,265.7 L86.5,263.1 L88.5,263.8 L89.8,267.7 L93.1,269 L97,275 L101,269.7 L103.6,272.3 L110.2,274.3 L118.1,273 L123.3,273.6 L133.8,273.6 L135,272.4 L141.6,272.4 L141.6,268.1 L152.5,268.1 L154,263.7 L158.4,260.8 L162,263 L162,266.6 L178.1,266.6 L178.1,260.8 L189,261.2 L189,262.7 L219.7,262.7" fill="none" stroke="#000" stroke-width="1" stroke-linejoin="round"/>
<path d="M60.9,284.1h0M61.72,266.53h0M62.54,263.33h0M63.36,259.22h0M64.18,255.29h0M65,254.67h0M65.82,254.12h0M66.64,253.57h0M67.46,253.03h0M68.28,252.06h0M69.1,249.6h0M69.92,246.18h0M70.74,242.5h0M71.56,239.04h0M72.38,236.71h0M73.2,235.9h0M74.02,236.06h0M74.84,237.24h0M75.66,241.54h0M76.48,241.98h0M77.3,246.7h0M78.12,246.88h0M78.94,247.06h0M79.76,247.25h0M80.58,249.08h0M81.4,252.4h0M82.22,261.02h0M83.04,263.6h0M83.86,265.6h0M84.68,264.92h0M85.5,264.1h0M86.32,263.28h0M87.14,263.32h0M87.96,263.61h0M88.78,264.64h0M89.6,267.1h0M90.42,267.94h0M91.24,268.27h0M92.06,268.59h0M92.88,268.91h0M93.7,269.92h0M94.52,271.18h0M95.34,272.45h0M96.16,273.71h0M96.98,274.97h0M97.8,273.94h0M98.62,272.85h0M99.44,271.77h0M100.26,270.68h0M101.08,269.78h0M101.9,270.6h0M102.72,271.42h0M103.54,272.24h0M104.36,272.53h0M105.18,272.78h0M106,273.03h0M106.82,273.28h0M107.64,273.52h0M108.46,273.77h0M109.28,274.02h0M110.1,274.27h0M110.92,274.18h0M111.74,274.05h0M112.56,273.91h0M113.38,273.78h0M114.2,273.64h0M115.02,273.51h0M115.84,273.37h0M116.66,273.24h0M117.48,273.1h0M118.3,273.02h0M119.12,273.12h0M119.94,273.21h0M120.76,273.31h0M121.58,273.4h0M122.4,273.5h0M123.22,273.59h0M124.04,273.6h0M124.86,273.6h0M125.68,273.6h0M126.5,273.6h0M127.32,273.6h0M128.14,273.6h0M128.96,273.6h0M129.78,273.6h0M130.6,273.6h0M131.42,273.6h0M132.24,273.6h0M133.06,273.6h0M133.88,273.52h0M134.7,272.7h0M135.52,272.4h0M136.34,272.4h0M137.16,272.4h0M137.98,272.4h0M138.8,272.4h0M139.62,272.4h0M140.44,272.4h0M141.26,272.4h0M142.08,268.1h0M142.9,268.1h0M143.72,268.1h0M144.54,268.1h0M145.36,268.1h0M146.18,268.1h0M147,268.1h0M147.82,268.1h0M148.64,268.1h0M149.46,268.1h0M150.28,268.1h0M151.1,268.1h0M151.92,268.1h0M152.74,267.4h0M153.56,264.99h0M154.38,263.45h0M155.2,262.91h0M156.02,262.37h0M156.84,261.83h0M157.66,261.29h0M158.48,260.85h0M159.3,261.35h0M160.12,261.85h0M160.94,262.35h0M161.76,262.85h0M162.58,266.6h0M163.4,266.6h0M164.22,266.6h0M165.04,266.6h0M165.86,266.6h0M166.68,266.6h0M167.5,266.6h0M168.32,266.6h0M169.14,266.6h0M169.96,266.6h0M170.78,266.6h0M171.6,266.6h0M172.42,266.6h0M173.24,266.6h0M174.06,266.6h0M174.88,266.6h0M175.7,266.6h0M176.52,266.6h0M177.34,266.6h0M178.16,260.8h0M178.98,260.83h0M179.8,260.86h0M180.62,260.89h0M181.44,260.92h0M182.26,260.95h0M183.08,260.98h0M183.9,261.01h0M184.72,261.04h0M185.54,261.07h0M186.36,261.1h0M187.18,261.13h0M188,261.16h0M188.82,261.19h0M189.64,262.7h0M190.46,262.7h0M191.28,262.7h0M192.1,262.7h0M192.92,262.7h0M193.74,262.7h0M194.56,262.7h0M195.38,262.7h0M196.2,262.7h0M197.02,262.7h0M197.84,262.7h0M198.66,262.7h0M199.48,262.7h0M200.3,262.7h0M201.12,262.7h0M201.94,262.7h0M202.76,262.7h0M203.58,262.7h0M204.4,262.7h0M205.22,262.7h0M206.04,262.7h0M206.86,262.7h0M207.68,262.7h0M208.5,262.7h0M209.32,262.7h0M210.14,262.7h0M210.96,262.7h0M211.78,262.7h0M212.6,262.7h0M213.42,262.7h0M214.24,262.7h0M215.06,262.7h0M215.88,262.7h0M216.7,262.7h0M217.52,262.7h0M218.34,262.7h0M219.16,262.7h0" stroke="#000" stroke-width="2.1" stroke-linecap="round"/>
<text x="140.6" y="350.1" font-size="7" font-family='"Liberation Sans", sans-serif' font-weight="bold" fill="#000" text-anchor="middle" stroke="#000" stroke-width="0.18" textLength="38.2" lengthAdjust="spacingAndGlyphs" >Time (Hour)</text>
<g transform="translate(15,269.4) rotate(-90)">
<text x="0" y="0" font-size="6.9" font-family='"Liberation Sans", sans-serif' font-weight="bold" fill="#000" text-anchor="middle" stroke="#000" stroke-width="0.18" textLength="50.9" lengthAdjust="spacingAndGlyphs" >Pearson r value</text>
</g>
<g transform="translate(23.5,269.4) rotate(-90)">
<text x="0" y="0" font-size="6.9" font-family='"Liberation Sans", sans-serif' font-weight="bold" fill="#000" text-anchor="middle" stroke="#000" stroke-width="0.18" textLength="101" lengthAdjust="spacingAndGlyphs" >(correlation between cell index</text>
</g>
<g transform="translate(32.1,270) rotate(-90)">
<text x="0" y="0" font-size="6.9" font-family='"Liberation Sans", sans-serif' font-weight="bold" fill="#000" text-anchor="middle" stroke="#000" stroke-width="0.18" textLength="118.7" lengthAdjust="spacingAndGlyphs" >and % of cluster 1 cells/preparation)</text>
</g>
<text x="0.2" y="355.4" font-size="29.5" font-family='"Liberation Serif", serif' font-weight="normal" fill="#000" text-anchor="start" >d</text>
<line x1="69.8" y1="410.6" x2="234" y2="410.6" stroke="#c8c8c8" stroke-width="0.7" />
<line x1="69.8" y1="378.44" x2="234" y2="378.44" stroke="#c8c8c8" stroke-width="0.7" />
<line x1="69.8" y1="442.76" x2="237.6" y2="442.76" stroke="#111" stroke-width="0.8" stroke-dasharray="1,1"/>
<line x1="69.8" y1="357" x2="69.8" y2="464.7" stroke="#000" stroke-width="0.9" />
<line x1="69.4" y1="464.2" x2="234.2" y2="464.2" stroke="#000" stroke-width="0.9" />
<line x1="67.2" y1="357" x2="69.8" y2="357" stroke="#000" stroke-width="0.8" />
<text x="66" y="359.6" font-size="6.5" font-family='"Liberation Sans", sans-serif' font-weight="bold" fill="#000" text-anchor="end" stroke="#000" stroke-width="0.18" >1.0</text>
<line x1="67.2" y1="367.72" x2="69.8" y2="367.72" stroke="#000" stroke-width="0.8" />
<text x="66" y="370.32" font-size="6.5" font-family='"Liberation Sans", sans-serif' font-weight="bold" fill="#000" text-anchor="end" stroke="#000" stroke-width="0.18" >0.8</text>
<line x1="67.2" y1="378.44" x2="69.8" y2="378.44" stroke="#000" stroke-width="0.8" />
<text x="66" y="381.04" font-size="6.5" font-family='"Liberation Sans", sans-serif' font-weight="bold" fill="#000" text-anchor="end" stroke="#000" stroke-width="0.18" >0.6</text>
<line x1="67.2" y1="389.16" x2="69.8" y2="389.16" stroke="#000" stroke-width="0.8" />
<text x="66" y="391.76" font-size="6.5" font-family='"Liberation Sans", sans-serif' font-weight="bold" fill="#000" text-anchor="end" stroke="#000" stroke-width="0.18" >0.4</text>
<line x1="67.2" y1="399.88" x2="69.8" y2="399.88" stroke="#000" stroke-width="0.8" />
<text x="66" y="402.48" font-size="6.5" font-family='"Liberation Sans", sans-serif' font-weight="bold" fill="#000" text-anchor="end" stroke="#000" stroke-width="0.18" >0.2</text>
<line x1="67.2" y1="410.6" x2="69.8" y2="410.6" stroke="#000" stroke-width="0.8" />
<text x="66" y="413.2" font-size="6.5" font-family='"Liberation Sans", sans-serif' font-weight="bold" fill="#000" text-anchor="end" stroke="#000" stroke-width="0.18" >0.0</text>
<line x1="67.2" y1="421.32" x2="69.8" y2="421.32" stroke="#000" stroke-width="0.8" />
<text x="66" y="423.92" font-size="6.5" font-family='"Liberation Sans", sans-serif' font-weight="bold" fill="#000" text-anchor="end" stroke="#000" stroke-width="0.18" >-0.2</text>
<line x1="67.2" y1="432.04" x2="69.8" y2="432.04" stroke="#000" stroke-width="0.8" />
<text x="66" y="434.64" font-size="6.5" font-family='"Liberation Sans", sans-serif' font-weight="bold" fill="#000" text-anchor="end" stroke="#000" stroke-width="0.18" >-0.4</text>
<line x1="67.2" y1="442.76" x2="69.8" y2="442.76" stroke="#000" stroke-width="0.8" />
<text x="66" y="445.36" font-size="6.5" font-family='"Liberation Sans", sans-serif' font-weight="bold" fill="#000" text-anchor="end" stroke="#000" stroke-width="0.18" >-0.6</text>
<line x1="67.2" y1="453.48" x2="69.8" y2="453.48" stroke="#000" stroke-width="0.8" />
<text x="66" y="456.08" font-size="6.5" font-family='"Liberation Sans", sans-serif' font-weight="bold" fill="#000" text-anchor="end" stroke="#000" stroke-width="0.18" >-0.8</text>
<line x1="67.2" y1="464.2" x2="69.8" y2="464.2" stroke="#000" stroke-width="0.8" />
<text x="66" y="466.8" font-size="6.5" font-family='"Liberation Sans", sans-serif' font-weight="bold" fill="#000" text-anchor="end" stroke="#000" stroke-width="0.18" >-1.0</text>
<line x1="69.8" y1="464.2" x2="69.8" y2="467.4" stroke="#000" stroke-width="0.7" />
<g transform="translate(71.2,472.2) rotate(-45)">
<text x="0" y="0" font-size="6.3" font-family='"Liberation Sans", sans-serif' font-weight="bold" fill="#000" text-anchor="end" stroke="#000" stroke-width="0.18" >0</text>
</g>
<line x1="77.97" y1="464.2" x2="77.97" y2="467.4" stroke="#000" stroke-width="0.7" />
<g transform="translate(79.37,472.2) rotate(-45)">
<text x="0" y="0" font-size="6.3" font-family='"Liberation Sans", sans-serif' font-weight="bold" fill="#000" text-anchor="end" stroke="#000" stroke-width="0.18" >5</text>
</g>
<line x1="86.14" y1="464.2" x2="86.14" y2="467.4" stroke="#000" stroke-width="0.7" />
<g transform="translate(87.54,472.2) rotate(-45)">
<text x="0" y="0" font-size="6.3" font-family='"Liberation Sans", sans-serif' font-weight="bold" fill="#000" text-anchor="end" stroke="#000" stroke-width="0.18" >10</text>
</g>
<line x1="94.31" y1="464.2" x2="94.31" y2="467.4" stroke="#000" stroke-width="0.7" />
<g transform="translate(95.71,472.2) rotate(-45)">
<text x="0" y="0" font-size="6.3" font-family='"Liberation Sans", sans-serif' font-weight="bold" fill="#000" text-anchor="end" stroke="#000" stroke-width="0.18" >15</text>
</g>
<line x1="102.48" y1="464.2" x2="102.48" y2="467.4" stroke="#000" stroke-width="0.7" />
<g transform="translate(103.88,472.2) rotate(-45)">
<text x="0" y="0" font-size="6.3" font-family='"Liberation Sans", sans-serif' font-weight="bold" fill="#000" text-anchor="end" stroke="#000" stroke-width="0.18" >20</text>
</g>
<line x1="110.65" y1="464.2" x2="110.65" y2="467.4" stroke="#000" stroke-width="0.7" />
<g transform="translate(112.05,472.2) rotate(-45)">
<text x="0" y="0" font-size="6.3" font-family='"Liberation Sans", sans-serif' font-weight="bold" fill="#000" text-anchor="end" stroke="#000" stroke-width="0.18" >25</text>
</g>
<line x1="118.82" y1="464.2" x2="118.82" y2="467.4" stroke="#000" stroke-width="0.7" />
<g transform="translate(120.22,472.2) rotate(-45)">
<text x="0" y="0" font-size="6.3" font-family='"Liberation Sans", sans-serif' font-weight="bold" fill="#000" text-anchor="end" stroke="#000" stroke-width="0.18" >30</text>
</g>
<line x1="126.99" y1="464.2" x2="126.99" y2="467.4" stroke="#000" stroke-width="0.7" />
<g transform="translate(128.39,472.2) rotate(-45)">
<text x="0" y="0" font-size="6.3" font-family='"Liberation Sans", sans-serif' font-weight="bold" fill="#000" text-anchor="end" stroke="#000" stroke-width="0.18" >35</text>
</g>
<line x1="135.16" y1="464.2" x2="135.16" y2="467.4" stroke="#000" stroke-width="0.7" />
<g transform="translate(136.56,472.2) rotate(-45)">
<text x="0" y="0" font-size="6.3" font-family='"Liberation Sans", sans-serif' font-weight="bold" fill="#000" text-anchor="end" stroke="#000" stroke-width="0.18" >40</text>
</g>
<line x1="143.33" y1="464.2" x2="143.33" y2="467.4" stroke="#000" stroke-width="0.7" />
<g transform="translate(144.73,472.2) rotate(-45)">
<text x="0" y="0" font-size="6.3" font-family='"Liberation Sans", sans-serif' font-weight="bold" fill="#000" text-anchor="end" stroke="#000" stroke-width="0.18" >45</text>
</g>
<line x1="151.5" y1="464.2" x2="151.5" y2="467.4" stroke="#000" stroke-width="0.7" />
<g transform="translate(152.9,472.2) rotate(-45)">
<text x="0" y="0" font-size="6.3" font-family='"Liberation Sans", sans-serif' font-weight="bold" fill="#000" text-anchor="end" stroke="#000" stroke-width="0.18" >50</text>
</g>
<line x1="159.67" y1="464.2" x2="159.67" y2="467.4" stroke="#000" stroke-width="0.7" />
<g transform="translate(161.07,472.2) rotate(-45)">
<text x="0" y="0" font-size="6.3" font-family='"Liberation Sans", sans-serif' font-weight="bold" fill="#000" text-anchor="end" stroke="#000" stroke-width="0.18" >55</text>
</g>
<line x1="167.84" y1="464.2" x2="167.84" y2="467.4" stroke="#000" stroke-width="0.7" />
<g transform="translate(169.24,472.2) rotate(-45)">
<text x="0" y="0" font-size="6.3" font-family='"Liberation Sans", sans-serif' font-weight="bold" fill="#000" text-anchor="end" stroke="#000" stroke-width="0.18" >60</text>
</g>
<line x1="176.01" y1="464.2" x2="176.01" y2="467.4" stroke="#000" stroke-width="0.7" />
<g transform="translate(177.41,472.2) rotate(-45)">
<text x="0" y="0" font-size="6.3" font-family='"Liberation Sans", sans-serif' font-weight="bold" fill="#000" text-anchor="end" stroke="#000" stroke-width="0.18" >65</text>
</g>
<line x1="184.18" y1="464.2" x2="184.18" y2="467.4" stroke="#000" stroke-width="0.7" />
<g transform="translate(185.58,472.2) rotate(-45)">
<text x="0" y="0" font-size="6.3" font-family='"Liberation Sans", sans-serif' font-weight="bold" fill="#000" text-anchor="end" stroke="#000" stroke-width="0.18" >70</text>
</g>
<line x1="192.35" y1="464.2" x2="192.35" y2="467.4" stroke="#000" stroke-width="0.7" />
<g transform="translate(193.75,472.2) rotate(-45)">
<text x="0" y="0" font-size="6.3" font-family='"Liberation Sans", sans-serif' font-weight="bold" fill="#000" text-anchor="end" stroke="#000" stroke-width="0.18" >75</text>
</g>
<line x1="200.52" y1="464.2" x2="200.52" y2="467.4" stroke="#000" stroke-width="0.7" />
<g transform="translate(201.92,472.2) rotate(-45)">
<text x="0" y="0" font-size="6.3" font-family='"Liberation Sans", sans-serif' font-weight="bold" fill="#000" text-anchor="end" stroke="#000" stroke-width="0.18" >80</text>
</g>
<line x1="208.69" y1="464.2" x2="208.69" y2="467.4" stroke="#000" stroke-width="0.7" />
<g transform="translate(210.09,472.2) rotate(-45)">
<text x="0" y="0" font-size="6.3" font-family='"Liberation Sans", sans-serif' font-weight="bold" fill="#000" text-anchor="end" stroke="#000" stroke-width="0.18" >85</text>
</g>
<line x1="216.86" y1="464.2" x2="216.86" y2="467.4" stroke="#000" stroke-width="0.7" />
<g transform="translate(218.26,472.2) rotate(-45)">
<text x="0" y="0" font-size="6.3" font-family='"Liberation Sans", sans-serif' font-weight="bold" fill="#000" text-anchor="end" stroke="#000" stroke-width="0.18" >90</text>
</g>
<line x1="225.03" y1="464.2" x2="225.03" y2="467.4" stroke="#000" stroke-width="0.7" />
<g transform="translate(226.43,472.2) rotate(-45)">
<text x="0" y="0" font-size="6.3" font-family='"Liberation Sans", sans-serif' font-weight="bold" fill="#000" text-anchor="end" stroke="#000" stroke-width="0.18" >95</text>
</g>
<line x1="233.2" y1="464.2" x2="233.2" y2="467.4" stroke="#000" stroke-width="0.7" />
<g transform="translate(234.6,472.2) rotate(-45)">
<text x="0" y="0" font-size="6.3" font-family='"Liberation Sans", sans-serif' font-weight="bold" fill="#000" text-anchor="end" stroke="#000" stroke-width="0.18" >100</text>
</g>
<text x="140" y="451.3" font-size="7.5" font-family='"Liberation Sans", sans-serif' font-weight="normal" fill="#111" text-anchor="start" stroke="#111" stroke-width="0.18" textLength="96.8" lengthAdjust="spacingAndGlyphs" >Correlation reaches significance</text>
<path d="M69.5,440.7 L72.2,395.8 L73,404.9 L73.4,413.3 L74.5,417.9 L75.2,422.4 L77,422.4 L79,425.5 L80.6,430.8 L82.1,436.2 L82.9,442.3 L84.4,443.8 L86.7,442.3 L87.4,438.4 L89,433.9 L91.3,433.9 L92.8,428.5 L93.5,420.2 L95.8,416.3 L98.1,419.4 L100.4,414.8 L104.2,414 L107.3,411.8 L108.8,409.5 L112.6,414 L115.6,411 L121,410.2 L130.1,411 L146.1,411 L153,411 L153,414.8 L163.6,414.8 L165.2,417.9 L169.7,420.2 L171.3,421.7 L172.8,419.4 L173.5,415.6 L189.5,415.6 L189.5,420.9 L201,420.9 L202.5,419.7 L231.5,419.7" fill="none" stroke="#000" stroke-width="1" stroke-linejoin="round"/>
<path d="M69.5,440.7h0M70.32,427.06h0M71.14,413.43h0M71.96,399.79h0M72.78,402.4h0M73.6,414.14h0M74.42,417.57h0M75.24,422.4h0M76.06,422.4h0M76.88,422.4h0M77.7,423.48h0M78.52,424.76h0M79.34,426.63h0M80.16,429.34h0M80.98,432.17h0M81.8,435.12h0M82.62,440.16h0M83.44,442.84h0M84.26,443.66h0M85.08,443.36h0M85.9,442.82h0M86.72,442.19h0M87.54,438.01h0M88.36,435.7h0M89.18,433.9h0M90,433.9h0M90.82,433.9h0M91.64,432.68h0M92.46,429.72h0M93.28,422.81h0M94.1,419.18h0M94.92,417.79h0M95.74,416.4h0M96.56,417.32h0M97.38,418.43h0M98.2,419.2h0M99.02,417.56h0M99.84,415.92h0M100.66,414.75h0M101.48,414.57h0M102.3,414.4h0M103.12,414.23h0M103.94,414.05h0M104.76,413.6h0M105.58,413.02h0M106.4,412.44h0M107.22,411.86h0M108.04,410.67h0M108.86,409.57h0M109.68,410.54h0M110.5,411.51h0M111.32,412.48h0M112.14,413.46h0M112.96,413.64h0M113.78,412.82h0M114.6,412h0M115.42,411.18h0M116.24,410.91h0M117.06,410.78h0M117.88,410.66h0M118.7,410.54h0M119.52,410.42h0M120.34,410.3h0M121.16,410.21h0M121.98,410.29h0M122.8,410.36h0M123.62,410.43h0M124.44,410.5h0M125.26,410.57h0M126.08,410.65h0M126.9,410.72h0M127.72,410.79h0M128.54,410.86h0M129.36,410.93h0M130.18,411h0M131,411h0M131.82,411h0M132.64,411h0M133.46,411h0M134.28,411h0M135.1,411h0M135.92,411h0M136.74,411h0M137.56,411h0M138.38,411h0M139.2,411h0M140.02,411h0M140.84,411h0M141.66,411h0M142.48,411h0M143.3,411h0M144.12,411h0M144.94,411h0M145.76,411h0M146.58,411h0M147.4,411h0M148.22,411h0M149.04,411h0M149.86,411h0M150.68,411h0M151.5,411h0M152.32,411h0M153.14,414.8h0M153.96,414.8h0M154.78,414.8h0M155.6,414.8h0M156.42,414.8h0M157.24,414.8h0M158.06,414.8h0M158.88,414.8h0M159.7,414.8h0M160.52,414.8h0M161.34,414.8h0M162.16,414.8h0M162.98,414.8h0M163.8,415.19h0M164.62,416.78h0M165.44,418.02h0M166.26,418.44h0M167.08,418.86h0M167.9,419.28h0M168.72,419.7h0M169.54,420.12h0M170.36,420.82h0M171.18,421.59h0M172,420.63h0M172.82,419.29h0M173.64,415.6h0M174.46,415.6h0M175.28,415.6h0M176.1,415.6h0M176.92,415.6h0M177.74,415.6h0M178.56,415.6h0M179.38,415.6h0M180.2,415.6h0M181.02,415.6h0M181.84,415.6h0M182.66,415.6h0M183.48,415.6h0M184.3,415.6h0M185.12,415.6h0M185.94,415.6h0M186.76,415.6h0M187.58,415.6h0M188.4,415.6h0M189.22,415.6h0M190.04,420.9h0M190.86,420.9h0M191.68,420.9h0M192.5,420.9h0M193.32,420.9h0M194.14,420.9h0M194.96,420.9h0M195.78,420.9h0M196.6,420.9h0M197.42,420.9h0M198.24,420.9h0M199.06,420.9h0M199.88,420.9h0M200.7,420.9h0M201.52,420.48h0M202.34,419.83h0M203.16,419.7h0M203.98,419.7h0M204.8,419.7h0M205.62,419.7h0M206.44,419.7h0M207.26,419.7h0M208.08,419.7h0M208.9,419.7h0M209.72,419.7h0M210.54,419.7h0M211.36,419.7h0M212.18,419.7h0M213,419.7h0M213.82,419.7h0M214.64,419.7h0M215.46,419.7h0M216.28,419.7h0M217.1,419.7h0M217.92,419.7h0M218.74,419.7h0M219.56,419.7h0M220.38,419.7h0M221.2,419.7h0M222.02,419.7h0M222.84,419.7h0M223.66,419.7h0M224.48,419.7h0M225.3,419.7h0M226.12,419.7h0M226.94,419.7h0M227.76,419.7h0M228.58,419.7h0M229.4,419.7h0M230.22,419.7h0M231.04,419.7h0" stroke="#000" stroke-width="2.1" stroke-linecap="round"/>
<text x="152.2" y="490.2" font-size="7" font-family='"Liberation Sans", sans-serif' font-weight="bold" fill="#000" text-anchor="middle" stroke="#000" stroke-width="0.18" textLength="38.1" lengthAdjust="spacingAndGlyphs" >Time (Hour)</text>
<g transform="translate(26.6,410.5) rotate(-90)">
<text x="0" y="0" font-size="6.9" font-family='"Liberation Sans", sans-serif' font-weight="bold" fill="#000" text-anchor="middle" stroke="#000" stroke-width="0.18" textLength="51.5" lengthAdjust="spacingAndGlyphs" >Pearson r value</text>
</g>
<g transform="translate(35.3,410.3) rotate(-90)">
<text x="0" y="0" font-size="6.9" font-family='"Liberation Sans", sans-serif' font-weight="bold" fill="#000" text-anchor="middle" stroke="#000" stroke-width="0.18" textLength="101.6" lengthAdjust="spacingAndGlyphs" >(correlation between cell index</text>
</g>
<g transform="translate(44.2,411) rotate(-90)">
<text x="0" y="0" font-size="6.9" font-family='"Liberation Sans", sans-serif' font-weight="bold" fill="#000" text-anchor="middle" stroke="#000" stroke-width="0.18" textLength="118.3" lengthAdjust="spacingAndGlyphs" >and % of cluster 1 cells/preparation)</text>
</g>
<text x="419.7" y="212.3" font-size="30" font-family='"Liberation Serif", serif' font-weight="normal" fill="#000" text-anchor="start" >e</text>
<line x1="481.7" y1="265.3" x2="642.3" y2="265.3" stroke="#b8b8b8" stroke-width="0.7" />
<line x1="481.7" y1="233.86" x2="644.2" y2="233.86" stroke="#111" stroke-width="0.8" stroke-dasharray="1,1"/>
<line x1="481.7" y1="296.74" x2="643.2" y2="296.74" stroke="#111" stroke-width="0.8" stroke-dasharray="1,1"/>
<line x1="481.7" y1="212.9" x2="481.7" y2="318.2" stroke="#000" stroke-width="0.9" />
<line x1="481.3" y1="317.7" x2="641.7" y2="317.7" stroke="#000" stroke-width="0.9" />
<line x1="479.1" y1="212.9" x2="481.7" y2="212.9" stroke="#000" stroke-width="0.8" />
<text x="478.6" y="215.5" font-size="6.5" font-family='"Liberation Sans", sans-serif' font-weight="bold" fill="#000" text-anchor="end" stroke="#000" stroke-width="0.18" >1.0</text>
<line x1="479.1" y1="223.38" x2="481.7" y2="223.38" stroke="#000" stroke-width="0.8" />
<text x="478.6" y="225.98" font-size="6.5" font-family='"Liberation Sans", sans-serif' font-weight="bold" fill="#000" text-anchor="end" stroke="#000" stroke-width="0.18" >0.8</text>
<line x1="479.1" y1="233.86" x2="481.7" y2="233.86" stroke="#000" stroke-width="0.8" />
<text x="478.6" y="236.46" font-size="6.5" font-family='"Liberation Sans", sans-serif' font-weight="bold" fill="#000" text-anchor="end" stroke="#000" stroke-width="0.18" >0.6</text>
<line x1="479.1" y1="244.34" x2="481.7" y2="244.34" stroke="#000" stroke-width="0.8" />
<text x="478.6" y="246.94" font-size="6.5" font-family='"Liberation Sans", sans-serif' font-weight="bold" fill="#000" text-anchor="end" stroke="#000" stroke-width="0.18" >0.4</text>
<line x1="479.1" y1="254.82" x2="481.7" y2="254.82" stroke="#000" stroke-width="0.8" />
<text x="478.6" y="257.42" font-size="6.5" font-family='"Liberation Sans", sans-serif' font-weight="bold" fill="#000" text-anchor="end" stroke="#000" stroke-width="0.18" >0.2</text>
<line x1="479.1" y1="265.3" x2="481.7" y2="265.3" stroke="#000" stroke-width="0.8" />
<text x="478.6" y="267.9" font-size="6.5" font-family='"Liberation Sans", sans-serif' font-weight="bold" fill="#000" text-anchor="end" stroke="#000" stroke-width="0.18" >0.0</text>
<line x1="479.1" y1="275.78" x2="481.7" y2="275.78" stroke="#000" stroke-width="0.8" />
<text x="478.6" y="278.38" font-size="6.5" font-family='"Liberation Sans", sans-serif' font-weight="bold" fill="#000" text-anchor="end" stroke="#000" stroke-width="0.18" >-0.2</text>
<line x1="479.1" y1="286.26" x2="481.7" y2="286.26" stroke="#000" stroke-width="0.8" />
<text x="478.6" y="288.86" font-size="6.5" font-family='"Liberation Sans", sans-serif' font-weight="bold" fill="#000" text-anchor="end" stroke="#000" stroke-width="0.18" >-0.4</text>
<line x1="479.1" y1="296.74" x2="481.7" y2="296.74" stroke="#000" stroke-width="0.8" />
<text x="478.6" y="299.34" font-size="6.5" font-family='"Liberation Sans", sans-serif' font-weight="bold" fill="#000" text-anchor="end" stroke="#000" stroke-width="0.18" >-0.6</text>
<line x1="479.1" y1="307.22" x2="481.7" y2="307.22" stroke="#000" stroke-width="0.8" />
<text x="478.6" y="309.82" font-size="6.5" font-family='"Liberation Sans", sans-serif' font-weight="bold" fill="#000" text-anchor="end" stroke="#000" stroke-width="0.18" >-0.8</text>
<line x1="479.1" y1="317.7" x2="481.7" y2="317.7" stroke="#000" stroke-width="0.8" />
<text x="478.6" y="320.3" font-size="6.5" font-family='"Liberation Sans", sans-serif' font-weight="bold" fill="#000" text-anchor="end" stroke="#000" stroke-width="0.18" >-1.0</text>
<line x1="481.7" y1="317.7" x2="481.7" y2="320.9" stroke="#000" stroke-width="0.7" />
<g transform="translate(483.1,325.7) rotate(-45)">
<text x="0" y="0" font-size="6.3" font-family='"Liberation Sans", sans-serif' font-weight="bold" fill="#000" text-anchor="end" stroke="#000" stroke-width="0.18" >0</text>
</g>
<line x1="489.7" y1="317.7" x2="489.7" y2="320.9" stroke="#000" stroke-width="0.7" />
<g transform="translate(491.1,325.7) rotate(-45)">
<text x="0" y="0" font-size="6.3" font-family='"Liberation Sans", sans-serif' font-weight="bold" fill="#000" text-anchor="end" stroke="#000" stroke-width="0.18" >5</text>
</g>
<line x1="497.7" y1="317.7" x2="497.7" y2="320.9" stroke="#000" stroke-width="0.7" />
<g transform="translate(499.1,325.7) rotate(-45)">
<text x="0" y="0" font-size="6.3" font-family='"Liberation Sans", sans-serif' font-weight="bold" fill="#000" text-anchor="end" stroke="#000" stroke-width="0.18" >10</text>
</g>
<line x1="505.7" y1="317.7" x2="505.7" y2="320.9" stroke="#000" stroke-width="0.7" />
<g transform="translate(507.1,325.7) rotate(-45)">
<text x="0" y="0" font-size="6.3" font-family='"Liberation Sans", sans-serif' font-weight="bold" fill="#000" text-anchor="end" stroke="#000" stroke-width="0.18" >15</text>
</g>
<line x1="513.7" y1="317.7" x2="513.7" y2="320.9" stroke="#000" stroke-width="0.7" />
<g transform="translate(515.1,325.7) rotate(-45)">
<text x="0" y="0" font-size="6.3" font-family='"Liberation Sans", sans-serif' font-weight="bold" fill="#000" text-anchor="end" stroke="#000" stroke-width="0.18" >20</text>
</g>
<line x1="521.7" y1="317.7" x2="521.7" y2="320.9" stroke="#000" stroke-width="0.7" />
<g transform="translate(523.1,325.7) rotate(-45)">
<text x="0" y="0" font-size="6.3" font-family='"Liberation Sans", sans-serif' font-weight="bold" fill="#000" text-anchor="end" stroke="#000" stroke-width="0.18" >25</text>
</g>
<line x1="529.7" y1="317.7" x2="529.7" y2="320.9" stroke="#000" stroke-width="0.7" />
<g transform="translate(531.1,325.7) rotate(-45)">
<text x="0" y="0" font-size="6.3" font-family='"Liberation Sans", sans-serif' font-weight="bold" fill="#000" text-anchor="end" stroke="#000" stroke-width="0.18" >30</text>
</g>
<line x1="537.7" y1="317.7" x2="537.7" y2="320.9" stroke="#000" stroke-width="0.7" />
<g transform="translate(539.1,325.7) rotate(-45)">
<text x="0" y="0" font-size="6.3" font-family='"Liberation Sans", sans-serif' font-weight="bold" fill="#000" text-anchor="end" stroke="#000" stroke-width="0.18" >35</text>
</g>
<line x1="545.7" y1="317.7" x2="545.7" y2="320.9" stroke="#000" stroke-width="0.7" />
<g transform="translate(547.1,325.7) rotate(-45)">
<text x="0" y="0" font-size="6.3" font-family='"Liberation Sans", sans-serif' font-weight="bold" fill="#000" text-anchor="end" stroke="#000" stroke-width="0.18" >40</text>
</g>
<line x1="553.7" y1="317.7" x2="553.7" y2="320.9" stroke="#000" stroke-width="0.7" />
<g transform="translate(555.1,325.7) rotate(-45)">
<text x="0" y="0" font-size="6.3" font-family='"Liberation Sans", sans-serif' font-weight="bold" fill="#000" text-anchor="end" stroke="#000" stroke-width="0.18" >45</text>
</g>
<line x1="561.7" y1="317.7" x2="561.7" y2="320.9" stroke="#000" stroke-width="0.7" />
<g transform="translate(563.1,325.7) rotate(-45)">
<text x="0" y="0" font-size="6.3" font-family='"Liberation Sans", sans-serif' font-weight="bold" fill="#000" text-anchor="end" stroke="#000" stroke-width="0.18" >50</text>
</g>
<line x1="569.7" y1="317.7" x2="569.7" y2="320.9" stroke="#000" stroke-width="0.7" />
<g transform="translate(571.1,325.7) rotate(-45)">
<text x="0" y="0" font-size="6.3" font-family='"Liberation Sans", sans-serif' font-weight="bold" fill="#000" text-anchor="end" stroke="#000" stroke-width="0.18" >55</text>
</g>
<line x1="577.7" y1="317.7" x2="577.7" y2="320.9" stroke="#000" stroke-width="0.7" />
<g transform="translate(579.1,325.7) rotate(-45)">
<text x="0" y="0" font-size="6.3" font-family='"Liberation Sans", sans-serif' font-weight="bold" fill="#000" text-anchor="end" stroke="#000" stroke-width="0.18" >60</text>
</g>
<line x1="585.7" y1="317.7" x2="585.7" y2="320.9" stroke="#000" stroke-width="0.7" />
<g transform="translate(587.1,325.7) rotate(-45)">
<text x="0" y="0" font-size="6.3" font-family='"Liberation Sans", sans-serif' font-weight="bold" fill="#000" text-anchor="end" stroke="#000" stroke-width="0.18" >65</text>
</g>
<line x1="593.7" y1="317.7" x2="593.7" y2="320.9" stroke="#000" stroke-width="0.7" />
<g transform="translate(595.1,325.7) rotate(-45)">
<text x="0" y="0" font-size="6.3" font-family='"Liberation Sans", sans-serif' font-weight="bold" fill="#000" text-anchor="end" stroke="#000" stroke-width="0.18" >70</text>
</g>
<line x1="601.7" y1="317.7" x2="601.7" y2="320.9" stroke="#000" stroke-width="0.7" />
<g transform="translate(603.1,325.7) rotate(-45)">
<text x="0" y="0" font-size="6.3" font-family='"Liberation Sans", sans-serif' font-weight="bold" fill="#000" text-anchor="end" stroke="#000" stroke-width="0.18" >75</text>
</g>
<line x1="609.7" y1="317.7" x2="609.7" y2="320.9" stroke="#000" stroke-width="0.7" />
<g transform="translate(611.1,325.7) rotate(-45)">
<text x="0" y="0" font-size="6.3" font-family='"Liberation Sans", sans-serif' font-weight="bold" fill="#000" text-anchor="end" stroke="#000" stroke-width="0.18" >80</text>
</g>
<line x1="617.7" y1="317.7" x2="617.7" y2="320.9" stroke="#000" stroke-width="0.7" />
<g transform="translate(619.1,325.7) rotate(-45)">
<text x="0" y="0" font-size="6.3" font-family='"Liberation Sans", sans-serif' font-weight="bold" fill="#000" text-anchor="end" stroke="#000" stroke-width="0.18" >85</text>
</g>
<line x1="625.7" y1="317.7" x2="625.7" y2="320.9" stroke="#000" stroke-width="0.7" />
<g transform="translate(627.1,325.7) rotate(-45)">
<text x="0" y="0" font-size="6.3" font-family='"Liberation Sans", sans-serif' font-weight="bold" fill="#000" text-anchor="end" stroke="#000" stroke-width="0.18" >90</text>
</g>
<line x1="633.7" y1="317.7" x2="633.7" y2="320.9" stroke="#000" stroke-width="0.7" />
<g transform="translate(635.1,325.7) rotate(-45)">
<text x="0" y="0" font-size="6.3" font-family='"Liberation Sans", sans-serif' font-weight="bold" fill="#000" text-anchor="end" stroke="#000" stroke-width="0.18" >95</text>
</g>
<line x1="641.7" y1="317.7" x2="641.7" y2="320.9" stroke="#000" stroke-width="0.7" />
<g transform="translate(643.1,325.7) rotate(-45)">
<text x="0" y="0" font-size="6.3" font-family='"Liberation Sans", sans-serif' font-weight="bold" fill="#000" text-anchor="end" stroke="#000" stroke-width="0.18" >100</text>
</g>
<text x="544.8" y="305.1" font-size="7.3" font-family='"Liberation Sans", sans-serif' font-weight="normal" fill="#111" text-anchor="start" stroke="#111" stroke-width="0.18" textLength="97.1" lengthAdjust="spacingAndGlyphs" >Correlation reaches significance</text>
<path d="M483.2,270.3 L485.1,264.8 L486.9,259.3 L488.7,263 L490.5,260.2 L492.4,258.4 L494.2,260.2 L495.1,265.7 L496.9,267.6 L497.9,274 L498.8,276.7 L502.4,279.4 L503.4,283.1 L504.3,290.4 L505.2,296.8 L508.8,296.8 L511.6,298.7 L517.1,300.5 L521.6,299.6 L524.4,297.7 L528,297.7 L539,297.7 L542.7,295.9 L555,295.9 L556,292.1 L562.6,291.2 L563.5,289.8 L574,289.3 L574.9,286.4 L578.7,285.5 L580.6,282.6 L582.5,281.7 L598.6,283.6 L599.6,279.2 L610,279.2 L611,280.3 L639.4,280.3" fill="none" stroke="#3db4f2" stroke-width="1" stroke-linejoin="round"/>
<path d="M483.2,270.3h0M484,267.98h0M484.8,265.67h0M485.6,263.27h0M486.4,260.83h0M487.2,259.92h0M488,261.56h0M488.8,262.84h0M489.6,261.6h0M490.4,260.36h0M491.2,259.54h0M492,258.78h0M492.8,258.8h0M493.6,259.6h0M494.4,261.42h0M495.2,265.81h0M496,266.65h0M496.8,267.49h0M497.6,272.08h0M498.4,275.5h0M499.2,277h0M500,277.6h0M500.8,278.2h0M501.6,278.8h0M502.4,279.4h0M503.2,282.36h0M504,287.97h0M504.8,293.96h0M505.6,296.8h0M506.4,296.8h0M507.2,296.8h0M508,296.8h0M508.8,296.8h0M509.6,297.34h0M510.4,297.89h0M511.2,298.43h0M512,298.83h0M512.8,299.09h0M513.6,299.35h0M514.4,299.62h0M515.2,299.88h0M516,300.14h0M516.8,300.4h0M517.6,300.4h0M518.4,300.24h0M519.2,300.08h0M520,299.92h0M520.8,299.76h0M521.6,299.6h0M522.4,299.06h0M523.2,298.51h0M524,297.97h0M524.8,297.7h0M525.6,297.7h0M526.4,297.7h0M527.2,297.7h0M528,297.7h0M528.8,297.7h0M529.6,297.7h0M530.4,297.7h0M531.2,297.7h0M532,297.7h0M532.8,297.7h0M533.6,297.7h0M534.4,297.7h0M535.2,297.7h0M536,297.7h0M536.8,297.7h0M537.6,297.7h0M538.4,297.7h0M539.2,297.6h0M540,297.21h0M540.8,296.82h0M541.6,296.44h0M542.4,296.05h0M543.2,295.9h0M544,295.9h0M544.8,295.9h0M545.6,295.9h0M546.4,295.9h0M547.2,295.9h0M548,295.9h0M548.8,295.9h0M549.6,295.9h0M550.4,295.9h0M551.2,295.9h0M552,295.9h0M552.8,295.9h0M553.6,295.9h0M554.4,295.9h0M555.2,295.14h0M556,292.1h0M556.8,291.99h0M557.6,291.88h0M558.4,291.77h0M559.2,291.66h0M560,291.55h0M560.8,291.45h0M561.6,291.34h0M562.4,291.23h0M563.2,290.27h0M564,289.78h0M564.8,289.74h0M565.6,289.7h0M566.4,289.66h0M567.2,289.62h0M568,289.59h0M568.8,289.55h0M569.6,289.51h0M570.4,289.47h0M571.2,289.43h0M572,289.4h0M572.8,289.36h0M573.6,289.32h0M574.4,288.01h0M575.2,286.33h0M576,286.14h0M576.8,285.95h0M577.6,285.76h0M578.4,285.57h0M579.2,284.74h0M580,283.52h0M580.8,282.51h0M581.6,282.13h0M582.4,281.75h0M583.2,281.78h0M584,281.88h0M584.8,281.97h0M585.6,282.07h0M586.4,282.16h0M587.2,282.25h0M588,282.35h0M588.8,282.44h0M589.6,282.54h0M590.4,282.63h0M591.2,282.73h0M592,282.82h0M592.8,282.92h0M593.6,283.01h0M594.4,283.1h0M595.2,283.2h0M596,283.29h0M596.8,283.39h0M597.6,283.48h0M598.4,283.58h0M599.2,280.96h0M600,279.2h0M600.8,279.2h0M601.6,279.2h0M602.4,279.2h0M603.2,279.2h0M604,279.2h0M604.8,279.2h0M605.6,279.2h0M606.4,279.2h0M607.2,279.2h0M608,279.2h0M608.8,279.2h0M609.6,279.2h0M610.4,279.64h0M611.2,280.3h0M612,280.3h0M612.8,280.3h0M613.6,280.3h0M614.4,280.3h0M615.2,280.3h0M616,280.3h0M616.8,280.3h0M617.6,280.3h0M618.4,280.3h0M619.2,280.3h0M620,280.3h0M620.8,280.3h0M621.6,280.3h0M622.4,280.3h0M623.2,280.3h0M624,280.3h0M624.8,280.3h0M625.6,280.3h0M626.4,280.3h0M627.2,280.3h0M628,280.3h0M628.8,280.3h0M629.6,280.3h0M630.4,280.3h0M631.2,280.3h0M632,280.3h0M632.8,280.3h0M633.6,280.3h0M634.4,280.3h0M635.2,280.3h0M636,280.3h0M636.8,280.3h0M637.6,280.3h0M638.4,280.3h0M639.2,280.3h0" stroke="#3db4f2" stroke-width="1.9" stroke-linecap="round"/>
<path d="M483.8,245.6 L484.1,255.7 L485.1,259.3 L486,263.9 L486.9,268.5 L487.8,274 L488.7,278.5 L490.5,280.4 L492.4,284.9 L494.2,290.4 L496,289.5 L497.3,284 L498.4,279.4 L500.6,275.8 L502.4,274.9 L503.4,269.4 L504.3,263 L506.1,259.3 L508.8,257.5 L510.7,255.7 L513.4,253.8 L516.2,251.1 L518,247.4 L520.7,245.6 L522.6,249.3 L525.3,249.3 L526.2,245.6 L542.7,246.5 L555.5,247.4 L556.9,249.4 L563.5,249.4 L563.5,252.6 L573,252.6 L574.9,255.1 L575.9,258 L579.7,258.9 L580.6,260.4 L582.5,258.9 L583.5,257 L598.6,257 L599.6,260.8 L609.1,260.8 L611,261.7 L639.4,261.7" fill="none" stroke="#5b3fe6" stroke-width="1" stroke-linejoin="round"/>
<path d="M483.8,245.6h0M484.6,257.5h0M485.4,260.83h0M486.2,264.92h0M487,269.11h0M487.8,274h0M488.6,278h0M489.4,279.24h0M490.2,280.08h0M491,281.58h0M491.8,283.48h0M492.6,285.51h0M493.4,287.96h0M494.2,290.4h0M495,290h0M495.8,289.6h0M496.6,286.96h0M497.4,283.58h0M498.2,280.24h0M499,278.42h0M499.8,277.11h0M500.6,275.8h0M501.4,275.4h0M502.2,275h0M503,271.6h0M503.8,266.56h0M504.6,262.38h0M505.4,260.74h0M506.2,259.23h0M507,258.7h0M507.8,258.17h0M508.6,257.63h0M509.4,256.93h0M510.2,256.17h0M511,255.49h0M511.8,254.93h0M512.6,254.36h0M513.4,253.8h0M514.2,253.03h0M515,252.26h0M515.8,251.49h0M516.6,250.28h0M517.4,248.63h0M518.2,247.27h0M519,246.73h0M519.8,246.2h0M520.6,245.67h0M521.4,246.96h0M522.2,248.52h0M523,249.3h0M523.8,249.3h0M524.6,249.3h0M525.4,248.89h0M526.2,245.6h0M527,245.64h0M527.8,245.69h0M528.6,245.73h0M529.4,245.77h0M530.2,245.82h0M531,245.86h0M531.8,245.91h0M532.6,245.95h0M533.4,245.99h0M534.2,246.04h0M535,246.08h0M535.8,246.12h0M536.6,246.17h0M537.4,246.21h0M538.2,246.25h0M539,246.3h0M539.8,246.34h0M540.6,246.39h0M541.4,246.43h0M542.2,246.47h0M543,246.52h0M543.8,246.58h0M544.6,246.63h0M545.4,246.69h0M546.2,246.75h0M547,246.8h0M547.8,246.86h0M548.6,246.91h0M549.4,246.97h0M550.2,247.03h0M551,247.08h0M551.8,247.14h0M552.6,247.2h0M553.4,247.25h0M554.2,247.31h0M555,247.36h0M555.8,247.83h0M556.6,248.97h0M557.4,249.4h0M558.2,249.4h0M559,249.4h0M559.8,249.4h0M560.6,249.4h0M561.4,249.4h0M562.2,249.4h0M563,249.4h0M563.8,252.6h0M564.6,252.6h0M565.4,252.6h0M566.2,252.6h0M567,252.6h0M567.8,252.6h0M568.6,252.6h0M569.4,252.6h0M570.2,252.6h0M571,252.6h0M571.8,252.6h0M572.6,252.6h0M573.4,253.13h0M574.2,254.18h0M575,255.39h0M575.8,257.71h0M576.6,258.17h0M577.4,258.36h0M578.2,258.54h0M579,258.73h0M579.8,259.07h0M580.6,260.4h0M581.4,259.77h0M582.2,259.14h0M583,257.95h0M583.8,257h0M584.6,257h0M585.4,257h0M586.2,257h0M587,257h0M587.8,257h0M588.6,257h0M589.4,257h0M590.2,257h0M591,257h0M591.8,257h0M592.6,257h0M593.4,257h0M594.2,257h0M595,257h0M595.8,257h0M596.6,257h0M597.4,257h0M598.2,257h0M599,258.52h0M599.8,260.8h0M600.6,260.8h0M601.4,260.8h0M602.2,260.8h0M603,260.8h0M603.8,260.8h0M604.6,260.8h0M605.4,260.8h0M606.2,260.8h0M607,260.8h0M607.8,260.8h0M608.6,260.8h0M609.4,260.94h0M610.2,261.32h0M611,261.7h0M611.8,261.7h0M612.6,261.7h0M613.4,261.7h0M614.2,261.7h0M615,261.7h0M615.8,261.7h0M616.6,261.7h0M617.4,261.7h0M618.2,261.7h0M619,261.7h0M619.8,261.7h0M620.6,261.7h0M621.4,261.7h0M622.2,261.7h0M623,261.7h0M623.8,261.7h0M624.6,261.7h0M625.4,261.7h0M626.2,261.7h0M627,261.7h0M627.8,261.7h0M628.6,261.7h0M629.4,261.7h0M630.2,261.7h0M631,261.7h0M631.8,261.7h0M632.6,261.7h0M633.4,261.7h0M634.2,261.7h0M635,261.7h0M635.8,261.7h0M636.6,261.7h0M637.4,261.7h0M638.2,261.7h0M639,261.7h0" stroke="#5b3fe6" stroke-width="1.9" stroke-linecap="round"/>
<text x="562.2" y="340.8" font-size="6.6" font-family='"Liberation Sans", sans-serif' font-weight="bold" fill="#000" text-anchor="middle" stroke="#000" stroke-width="0.18" textLength="62.2" lengthAdjust="spacingAndGlyphs" >Time-Interval(Hour)</text>
<g transform="translate(444,265.5) rotate(-90)">
<text x="0" y="0" font-size="6.9" font-family='"Liberation Sans", sans-serif' font-weight="bold" fill="#000" text-anchor="middle" stroke="#000" stroke-width="0.18" textLength="23.5" lengthAdjust="spacingAndGlyphs" >R value</text>
</g>
<g transform="translate(452.9,265.7) rotate(-90)">
<text x="0" y="0" font-size="6.9" font-family='"Liberation Sans", sans-serif' font-weight="bold" fill="#000" text-anchor="middle" stroke="#000" stroke-width="0.18" textLength="100.4" lengthAdjust="spacingAndGlyphs" >(correlation between cell index</text>
</g>
<g transform="translate(461.5,265.5) rotate(-90)">
<text x="0" y="0" font-size="6.9" font-family='"Liberation Sans", sans-serif' font-weight="bold" fill="#000" text-anchor="middle" stroke="#000" stroke-width="0.18" textLength="48" lengthAdjust="spacingAndGlyphs" >and % of cells)</text>
</g>
<line x1="472.8" y1="350.1" x2="481.1" y2="350.1" stroke="#5b3fe6" stroke-width="0.9" />
<circle cx="476.8" cy="350.1" r="1.3" fill="#5b3fe6"/>
<text x="486.1" y="352.2" font-size="6.4" font-family='"Liberation Sans", sans-serif' font-weight="normal" fill="#111" text-anchor="start" stroke="#111" stroke-width="0.18" textLength="80.5" lengthAdjust="spacingAndGlyphs" >Cluster 0 (Major fibroblast)</text>
<line x1="586" y1="350.1" x2="594.3" y2="350.1" stroke="#3db4f2" stroke-width="0.9" />
<circle cx="590.2" cy="350.1" r="1.3" fill="#3db4f2"/>
<text x="600.5" y="352.2" font-size="6.4" font-family='"Liberation Sans", sans-serif' font-weight="normal" fill="#111" text-anchor="start" stroke="#111" stroke-width="0.18" textLength="80.3" lengthAdjust="spacingAndGlyphs" >Cluster 2 (Minor fibroblast)</text>
<line x1="274.2" y1="217.4" x2="274.2" y2="324.3" stroke="#000" stroke-width="0.9" />
<line x1="273.8" y1="323.8" x2="383.2" y2="323.8" stroke="#000" stroke-width="0.9" />
<line x1="271.4" y1="323.8" x2="274.2" y2="323.8" stroke="#000" stroke-width="0.8" />
<text x="270.8" y="325.8" font-size="7" font-family='"Liberation Sans", sans-serif' font-weight="bold" fill="#000" text-anchor="end" stroke="#000" stroke-width="0.18" >0</text>
<line x1="271.4" y1="297.28" x2="274.2" y2="297.28" stroke="#000" stroke-width="0.8" />
<text x="270.8" y="299.28" font-size="7" font-family='"Liberation Sans", sans-serif' font-weight="bold" fill="#000" text-anchor="end" stroke="#000" stroke-width="0.18" >2</text>
<line x1="271.4" y1="270.76" x2="274.2" y2="270.76" stroke="#000" stroke-width="0.8" />
<text x="270.8" y="272.76" font-size="7" font-family='"Liberation Sans", sans-serif' font-weight="bold" fill="#000" text-anchor="end" stroke="#000" stroke-width="0.18" >4</text>
<line x1="271.4" y1="244.24" x2="274.2" y2="244.24" stroke="#000" stroke-width="0.8" />
<text x="270.8" y="246.24" font-size="7" font-family='"Liberation Sans", sans-serif' font-weight="bold" fill="#000" text-anchor="end" stroke="#000" stroke-width="0.18" >6</text>
<line x1="271.4" y1="217.72" x2="274.2" y2="217.72" stroke="#000" stroke-width="0.8" />
<text x="270.8" y="219.72" font-size="7" font-family='"Liberation Sans", sans-serif' font-weight="bold" fill="#000" text-anchor="end" stroke="#000" stroke-width="0.18" >8</text>
<line x1="274.2" y1="323.8" x2="274.2" y2="326.8" stroke="#000" stroke-width="0.8" />
<text x="274.2" y="334.4" font-size="7" font-family='"Liberation Sans", sans-serif' font-weight="bold" fill="#000" text-anchor="middle" stroke="#000" stroke-width="0.18" >0</text>
<line x1="295.94" y1="323.8" x2="295.94" y2="326.8" stroke="#000" stroke-width="0.8" />
<text x="295.94" y="334.4" font-size="7" font-family='"Liberation Sans", sans-serif' font-weight="bold" fill="#000" text-anchor="middle" stroke="#000" stroke-width="0.18" >5</text>
<line x1="317.68" y1="323.8" x2="317.68" y2="326.8" stroke="#000" stroke-width="0.8" />
<text x="317.68" y="334.4" font-size="7" font-family='"Liberation Sans", sans-serif' font-weight="bold" fill="#000" text-anchor="middle" stroke="#000" stroke-width="0.18" >10</text>
<line x1="339.42" y1="323.8" x2="339.42" y2="326.8" stroke="#000" stroke-width="0.8" />
<text x="339.42" y="334.4" font-size="7" font-family='"Liberation Sans", sans-serif' font-weight="bold" fill="#000" text-anchor="middle" stroke="#000" stroke-width="0.18" >15</text>
<line x1="361.16" y1="323.8" x2="361.16" y2="326.8" stroke="#000" stroke-width="0.8" />
<text x="361.16" y="334.4" font-size="7" font-family='"Liberation Sans", sans-serif' font-weight="bold" fill="#000" text-anchor="middle" stroke="#000" stroke-width="0.18" >20</text>
<line x1="382.9" y1="323.8" x2="382.9" y2="326.8" stroke="#000" stroke-width="0.8" />
<text x="382.9" y="334.4" font-size="7" font-family='"Liberation Sans", sans-serif' font-weight="bold" fill="#000" text-anchor="middle" stroke="#000" stroke-width="0.18" >25</text>
<path d="M285,286 C299.08,281.87 355.42,265.33 369.5,261.2" fill="none" stroke="#222" stroke-width="0.7"/>
<path d="M285,271.2 C288.42,270.97 299.67,270.67 305.5,269.8 C311.33,268.93 317.58,266.63 320,266" fill="none" stroke="#222" stroke-width="0.7" stroke-dasharray="0.8,0.7"/>
<path d="M320,266 C324.17,264.17 336.75,258.78 345,255 C353.25,251.22 365.42,245.25 369.5,243.3" fill="none" stroke="#222" stroke-width="0.6"/>
<path d="M285,301.9 C288.42,300 298,293.62 305.5,290.5 C313,287.38 325.92,284.42 330,283.2" fill="none" stroke="#222" stroke-width="0.6"/>
<path d="M330,283.2 C333.33,282.75 343.42,281.08 350,280.5 C356.58,279.92 366.25,279.83 369.5,279.7" fill="none" stroke="#222" stroke-width="0.7" stroke-dasharray="0.8,0.7"/>
<circle cx="285" cy="276.9" r="2.1" fill="#000"/>
<circle cx="296.9" cy="290.5" r="2.1" fill="#000"/>
<circle cx="298.4" cy="278.3" r="2.1" fill="#000"/>
<circle cx="304" cy="274.6" r="2.1" fill="#000"/>
<circle cx="309.2" cy="301.6" r="2.1" fill="#000"/>
<circle cx="322.6" cy="255" r="2.1" fill="#000"/>
<circle cx="334" cy="272.6" r="2.1" fill="#000"/>
<circle cx="336" cy="287.7" r="2.1" fill="#000"/>
<circle cx="347" cy="272.3" r="2.1" fill="#000"/>
<circle cx="350.5" cy="267.2" r="2.1" fill="#000"/>
<circle cx="369.5" cy="252.7" r="2.1" fill="#000"/>
<g transform="translate(258.8,270.4) rotate(-90)">
<text x="0" y="0" font-size="7" font-family='"Liberation Sans", sans-serif' font-weight="bold" fill="#000" text-anchor="middle" stroke="#000" stroke-width="0.18" textLength="32.8" lengthAdjust="spacingAndGlyphs" >Cell Index</text>
</g>
<text x="328.2" y="345.4" font-size="7.6" font-family='"Liberation Sans", sans-serif' font-weight="bold" fill="#000" text-anchor="middle" stroke="#000" stroke-width="0.18" textLength="72.5" lengthAdjust="spacingAndGlyphs" >% of MSC in sample</text>
<line x1="270.6" y1="360" x2="270.6" y2="464.1" stroke="#000" stroke-width="0.9" />
<line x1="270.2" y1="463.6" x2="377.1" y2="463.6" stroke="#000" stroke-width="0.9" />
<line x1="267.8" y1="463.6" x2="270.6" y2="463.6" stroke="#000" stroke-width="0.8" />
<text x="267.2" y="465.6" font-size="7" font-family='"Liberation Sans", sans-serif' font-weight="bold" fill="#000" text-anchor="end" stroke="#000" stroke-width="0.18" >0</text>
<line x1="267.8" y1="437.72" x2="270.6" y2="437.72" stroke="#000" stroke-width="0.8" />
<text x="267.2" y="439.72" font-size="7" font-family='"Liberation Sans", sans-serif' font-weight="bold" fill="#000" text-anchor="end" stroke="#000" stroke-width="0.18" >2</text>
<line x1="267.8" y1="411.84" x2="270.6" y2="411.84" stroke="#000" stroke-width="0.8" />
<text x="267.2" y="413.84" font-size="7" font-family='"Liberation Sans", sans-serif' font-weight="bold" fill="#000" text-anchor="end" stroke="#000" stroke-width="0.18" >4</text>
<line x1="267.8" y1="385.96" x2="270.6" y2="385.96" stroke="#000" stroke-width="0.8" />
<text x="267.2" y="387.96" font-size="7" font-family='"Liberation Sans", sans-serif' font-weight="bold" fill="#000" text-anchor="end" stroke="#000" stroke-width="0.18" >6</text>
<line x1="267.8" y1="360.08" x2="270.6" y2="360.08" stroke="#000" stroke-width="0.8" />
<text x="267.2" y="362.08" font-size="7" font-family='"Liberation Sans", sans-serif' font-weight="bold" fill="#000" text-anchor="end" stroke="#000" stroke-width="0.18" >8</text>
<line x1="270.6" y1="463.6" x2="270.6" y2="466.6" stroke="#000" stroke-width="0.8" />
<text x="270.6" y="474.3" font-size="7" font-family='"Liberation Sans", sans-serif' font-weight="bold" fill="#000" text-anchor="middle" stroke="#000" stroke-width="0.18" >75</text>
<line x1="291.9" y1="463.6" x2="291.9" y2="466.6" stroke="#000" stroke-width="0.8" />
<text x="291.9" y="474.3" font-size="7" font-family='"Liberation Sans", sans-serif' font-weight="bold" fill="#000" text-anchor="middle" stroke="#000" stroke-width="0.18" >80</text>
<line x1="313.2" y1="463.6" x2="313.2" y2="466.6" stroke="#000" stroke-width="0.8" />
<text x="313.2" y="474.3" font-size="7" font-family='"Liberation Sans", sans-serif' font-weight="bold" fill="#000" text-anchor="middle" stroke="#000" stroke-width="0.18" >85</text>
<line x1="334.5" y1="463.6" x2="334.5" y2="466.6" stroke="#000" stroke-width="0.8" />
<text x="334.5" y="474.3" font-size="7" font-family='"Liberation Sans", sans-serif' font-weight="bold" fill="#000" text-anchor="middle" stroke="#000" stroke-width="0.18" >90</text>
<line x1="355.8" y1="463.6" x2="355.8" y2="466.6" stroke="#000" stroke-width="0.8" />
<text x="355.8" y="474.3" font-size="7" font-family='"Liberation Sans", sans-serif' font-weight="bold" fill="#000" text-anchor="middle" stroke="#000" stroke-width="0.18" >95</text>
<line x1="377.1" y1="463.6" x2="377.1" y2="466.6" stroke="#000" stroke-width="0.8" />
<text x="377.1" y="474.3" font-size="7" font-family='"Liberation Sans", sans-serif' font-weight="bold" fill="#000" text-anchor="middle" stroke="#000" stroke-width="0.18" >100</text>
<path d="M282.6,405.5 C296.35,409.25 351.35,424.25 365.1,428" fill="none" stroke="#222" stroke-width="0.7"/>
<path d="M282.6,387.3 C286.83,389.45 300.93,396.92 308,400.2 C315.07,403.48 322.17,405.87 325,407" fill="none" stroke="#222" stroke-width="0.6"/>
<path d="M325,407 C329.17,407.75 343.32,410.67 350,411.5 C356.68,412.33 362.58,411.92 365.1,412" fill="none" stroke="#222" stroke-width="0.7" stroke-dasharray="0.8,0.7"/>
<path d="M282.6,423.4 C286.83,423.4 301.43,423.05 308,423.4 C314.57,423.75 319.67,425.15 322,425.5" fill="none" stroke="#222" stroke-width="0.7" stroke-dasharray="0.8,0.7"/>
<path d="M322,425.5 C326.67,427.25 342.82,433 350,436 C357.18,439 362.58,442.25 365.1,443.5" fill="none" stroke="#222" stroke-width="0.6"/>
<circle cx="282.6" cy="395.6" r="2.1" fill="#000"/>
<circle cx="301.8" cy="409.5" r="2.1" fill="#000"/>
<circle cx="303.3" cy="415.1" r="2.1" fill="#000"/>
<circle cx="317.2" cy="415.7" r="2.1" fill="#000"/>
<circle cx="316.3" cy="429.6" r="2.1" fill="#000"/>
<circle cx="328.6" cy="397.5" r="2.1" fill="#000"/>
<circle cx="337.3" cy="442.9" r="2.1" fill="#000"/>
<circle cx="346.6" cy="416.6" r="2.1" fill="#000"/>
<circle cx="349" cy="432" r="2.1" fill="#000"/>
<circle cx="353.4" cy="420.3" r="2.1" fill="#000"/>
<circle cx="365.1" cy="419.7" r="2.1" fill="#000"/>
<g transform="translate(255.2,411.8) rotate(-90)">
<text x="0" y="0" font-size="7" font-family='"Liberation Sans", sans-serif' font-weight="bold" fill="#000" text-anchor="middle" stroke="#000" stroke-width="0.18" textLength="35.6" lengthAdjust="spacingAndGlyphs" >Cell Index</text>
</g>
<text x="324.3" y="485.4" font-size="7.5" font-family='"Liberation Sans", sans-serif' font-weight="bold" fill="#000" text-anchor="middle" stroke="#000" stroke-width="0.18" textLength="51.7" lengthAdjust="spacingAndGlyphs" >% of fibroblast</text>
<line x1="455.6" y1="368" x2="455.6" y2="459" stroke="#000" stroke-width="0.9" />
<line x1="455.2" y1="458.5" x2="548.4" y2="458.5" stroke="#000" stroke-width="0.9" />
<line x1="452.8" y1="458.5" x2="455.6" y2="458.5" stroke="#000" stroke-width="0.8" />
<text x="452.2" y="460.5" font-size="6.3" font-family='"Liberation Sans", sans-serif' font-weight="bold" fill="#000" text-anchor="end" stroke="#000" stroke-width="0.18" >0</text>
<line x1="452.8" y1="440.42" x2="455.6" y2="440.42" stroke="#000" stroke-width="0.8" />
<text x="452.2" y="442.42" font-size="6.3" font-family='"Liberation Sans", sans-serif' font-weight="bold" fill="#000" text-anchor="end" stroke="#000" stroke-width="0.18" >2</text>
<line x1="452.8" y1="422.34" x2="455.6" y2="422.34" stroke="#000" stroke-width="0.8" />
<text x="452.2" y="424.34" font-size="6.3" font-family='"Liberation Sans", sans-serif' font-weight="bold" fill="#000" text-anchor="end" stroke="#000" stroke-width="0.18" >4</text>
<line x1="452.8" y1="404.26" x2="455.6" y2="404.26" stroke="#000" stroke-width="0.8" />
<text x="452.2" y="406.26" font-size="6.3" font-family='"Liberation Sans", sans-serif' font-weight="bold" fill="#000" text-anchor="end" stroke="#000" stroke-width="0.18" >6</text>
<line x1="452.8" y1="386.18" x2="455.6" y2="386.18" stroke="#000" stroke-width="0.8" />
<text x="452.2" y="388.18" font-size="6.3" font-family='"Liberation Sans", sans-serif' font-weight="bold" fill="#000" text-anchor="end" stroke="#000" stroke-width="0.18" >8</text>
<line x1="452.8" y1="368.1" x2="455.6" y2="368.1" stroke="#000" stroke-width="0.8" />
<text x="452.2" y="370.1" font-size="6.3" font-family='"Liberation Sans", sans-serif' font-weight="bold" fill="#000" text-anchor="end" stroke="#000" stroke-width="0.18" >10</text>
<line x1="455.6" y1="458.5" x2="455.6" y2="461.5" stroke="#000" stroke-width="0.8" />
<text x="455.6" y="468" font-size="6.3" font-family='"Liberation Sans", sans-serif' font-weight="bold" fill="#000" text-anchor="middle" stroke="#000" stroke-width="0.18" >0</text>
<line x1="473.9" y1="458.5" x2="473.9" y2="461.5" stroke="#000" stroke-width="0.8" />
<text x="473.9" y="468" font-size="6.3" font-family='"Liberation Sans", sans-serif' font-weight="bold" fill="#000" text-anchor="middle" stroke="#000" stroke-width="0.18" >20</text>
<line x1="492.2" y1="458.5" x2="492.2" y2="461.5" stroke="#000" stroke-width="0.8" />
<text x="492.2" y="468" font-size="6.3" font-family='"Liberation Sans", sans-serif' font-weight="bold" fill="#000" text-anchor="middle" stroke="#000" stroke-width="0.18" >40</text>
<line x1="510.5" y1="458.5" x2="510.5" y2="461.5" stroke="#000" stroke-width="0.8" />
<text x="510.5" y="468" font-size="6.3" font-family='"Liberation Sans", sans-serif' font-weight="bold" fill="#000" text-anchor="middle" stroke="#000" stroke-width="0.18" >60</text>
<line x1="528.8" y1="458.5" x2="528.8" y2="461.5" stroke="#000" stroke-width="0.8" />
<text x="528.8" y="468" font-size="6.3" font-family='"Liberation Sans", sans-serif' font-weight="bold" fill="#000" text-anchor="middle" stroke="#000" stroke-width="0.18" >80</text>
<line x1="547.1" y1="458.5" x2="547.1" y2="461.5" stroke="#000" stroke-width="0.8" />
<text x="547.1" y="468" font-size="6.3" font-family='"Liberation Sans", sans-serif' font-weight="bold" fill="#000" text-anchor="middle" stroke="#000" stroke-width="0.18" >100</text>
<circle cx="490.8" cy="423.9" r="2.05" fill="#000"/>
<circle cx="504.7" cy="418.5" r="2.05" fill="#000"/>
<circle cx="506.1" cy="405.1" r="2.05" fill="#000"/>
<circle cx="518.2" cy="391.7" r="2.05" fill="#000"/>
<circle cx="520.3" cy="385.5" r="2.05" fill="#000"/>
<circle cx="520" cy="416.9" r="2.05" fill="#000"/>
<circle cx="523.5" cy="404.3" r="2.05" fill="#000"/>
<circle cx="528.9" cy="428.5" r="2.05" fill="#000"/>
<circle cx="531.6" cy="397.6" r="2.05" fill="#000"/>
<circle cx="532.9" cy="411.6" r="2.05" fill="#000"/>
<circle cx="539.5" cy="391.4" r="2.05" fill="#000"/>
<g transform="translate(439.9,412.3) rotate(-90)">
<text x="0" y="0" font-size="6.4" font-family='"Liberation Sans", sans-serif' font-weight="bold" fill="#000" text-anchor="middle" stroke="#000" stroke-width="0.18" textLength="29.5" lengthAdjust="spacingAndGlyphs" >Cell Index</text>
</g>
<text x="502" y="477.6" font-size="7" font-family='"Liberation Sans", sans-serif' font-weight="normal" fill="#000" text-anchor="middle" stroke="#000" stroke-width="0.18" textLength="42.1" lengthAdjust="spacingAndGlyphs" >% of cluster 0</text>
<line x1="586.3" y1="366.6" x2="586.3" y2="459.7" stroke="#000" stroke-width="0.9" />
<line x1="585.9" y1="459.2" x2="682" y2="459.2" stroke="#000" stroke-width="0.9" />
<line x1="583.5" y1="459.2" x2="586.3" y2="459.2" stroke="#000" stroke-width="0.8" />
<text x="582.9" y="461.2" font-size="6.3" font-family='"Liberation Sans", sans-serif' font-weight="bold" fill="#000" text-anchor="end" stroke="#000" stroke-width="0.18" >0</text>
<line x1="583.5" y1="436.05" x2="586.3" y2="436.05" stroke="#000" stroke-width="0.8" />
<text x="582.9" y="438.05" font-size="6.3" font-family='"Liberation Sans", sans-serif' font-weight="bold" fill="#000" text-anchor="end" stroke="#000" stroke-width="0.18" >2</text>
<line x1="583.5" y1="412.9" x2="586.3" y2="412.9" stroke="#000" stroke-width="0.8" />
<text x="582.9" y="414.9" font-size="6.3" font-family='"Liberation Sans", sans-serif' font-weight="bold" fill="#000" text-anchor="end" stroke="#000" stroke-width="0.18" >4</text>
<line x1="583.5" y1="389.75" x2="586.3" y2="389.75" stroke="#000" stroke-width="0.8" />
<text x="582.9" y="391.75" font-size="6.3" font-family='"Liberation Sans", sans-serif' font-weight="bold" fill="#000" text-anchor="end" stroke="#000" stroke-width="0.18" >6</text>
<line x1="583.5" y1="366.6" x2="586.3" y2="366.6" stroke="#000" stroke-width="0.8" />
<text x="582.9" y="368.6" font-size="6.3" font-family='"Liberation Sans", sans-serif' font-weight="bold" fill="#000" text-anchor="end" stroke="#000" stroke-width="0.18" >8</text>
<line x1="586.3" y1="459.2" x2="586.3" y2="462.2" stroke="#000" stroke-width="0.8" />
<text x="586.3" y="468.9" font-size="6.3" font-family='"Liberation Sans", sans-serif' font-weight="bold" fill="#000" text-anchor="middle" stroke="#000" stroke-width="0.18" >0</text>
<line x1="610.2" y1="459.2" x2="610.2" y2="462.2" stroke="#000" stroke-width="0.8" />
<text x="610.2" y="468.9" font-size="6.3" font-family='"Liberation Sans", sans-serif' font-weight="bold" fill="#000" text-anchor="middle" stroke="#000" stroke-width="0.18" >10</text>
<line x1="634.1" y1="459.2" x2="634.1" y2="462.2" stroke="#000" stroke-width="0.8" />
<text x="634.1" y="468.9" font-size="6.3" font-family='"Liberation Sans", sans-serif' font-weight="bold" fill="#000" text-anchor="middle" stroke="#000" stroke-width="0.18" >20</text>
<line x1="658" y1="459.2" x2="658" y2="462.2" stroke="#000" stroke-width="0.8" />
<text x="658" y="468.9" font-size="6.3" font-family='"Liberation Sans", sans-serif' font-weight="bold" fill="#000" text-anchor="middle" stroke="#000" stroke-width="0.18" >30</text>
<line x1="681.9" y1="459.2" x2="681.9" y2="462.2" stroke="#000" stroke-width="0.8" />
<text x="681.9" y="468.9" font-size="6.3" font-family='"Liberation Sans", sans-serif' font-weight="bold" fill="#000" text-anchor="middle" stroke="#000" stroke-width="0.18" >40</text>
<path d="M586.3,386.8 C599.85,391.95 654.05,412.55 667.6,417.7" fill="none" stroke="#222" stroke-width="0.7"/>
<path d="M586.3,373.9 C589.88,375.83 601.53,382.77 607.8,385.5 C614.07,388.23 621.22,389.5 623.9,390.3" fill="none" stroke="#222" stroke-width="0.6"/>
<path d="M623.9,390.3 C626.13,390.38 629.93,390.72 637.3,390.8 C644.67,390.88 662.97,390.8 668.1,390.8" fill="none" stroke="#222" stroke-width="0.7" stroke-dasharray="0.8,0.7"/>
<path d="M586.3,401.6 C588.53,401.82 595.08,401.92 599.7,402.9 C604.32,403.88 611.62,406.73 614,407.5" fill="none" stroke="#222" stroke-width="0.7" stroke-dasharray="0.8,0.7"/>
<path d="M614,407.5 C614.75,407.85 613.73,406.35 618.5,409.6 C623.27,412.85 634.33,420.73 642.6,427 C650.87,433.27 663.85,443.83 668.1,447.2" fill="none" stroke="#222" stroke-width="0.6"/>
<circle cx="587.1" cy="377.4" r="2.1" fill="#000"/>
<circle cx="587.1" cy="379.3" r="2.1" fill="#000"/>
<circle cx="590.3" cy="371.3" r="2.1" fill="#000"/>
<circle cx="588.5" cy="389" r="2.1" fill="#000"/>
<circle cx="590.9" cy="405.6" r="2.1" fill="#000"/>
<circle cx="601.1" cy="421.7" r="2.1" fill="#000"/>
<circle cx="607" cy="384.7" r="2.1" fill="#000"/>
<circle cx="607.2" cy="406.9" r="2.1" fill="#000"/>
<circle cx="620.6" cy="408.8" r="2.1" fill="#000"/>
<circle cx="630.6" cy="392.2" r="2.1" fill="#000"/>
<circle cx="667.6" cy="417.1" r="2.1" fill="#000"/>
<g transform="translate(573.9,413) rotate(-90)">
<text x="0" y="0" font-size="6.4" font-family='"Liberation Sans", sans-serif' font-weight="bold" fill="#000" text-anchor="middle" stroke="#000" stroke-width="0.18" textLength="30.9" lengthAdjust="spacingAndGlyphs" >Cell Index</text>
</g>
<text x="633.9" y="479.1" font-size="7.2" font-family='"Liberation Sans", sans-serif' font-weight="normal" fill="#000" text-anchor="middle" stroke="#000" stroke-width="0.18" textLength="60.2" lengthAdjust="spacingAndGlyphs" >% of cluster 2 cells</text>
</svg></body></html>
